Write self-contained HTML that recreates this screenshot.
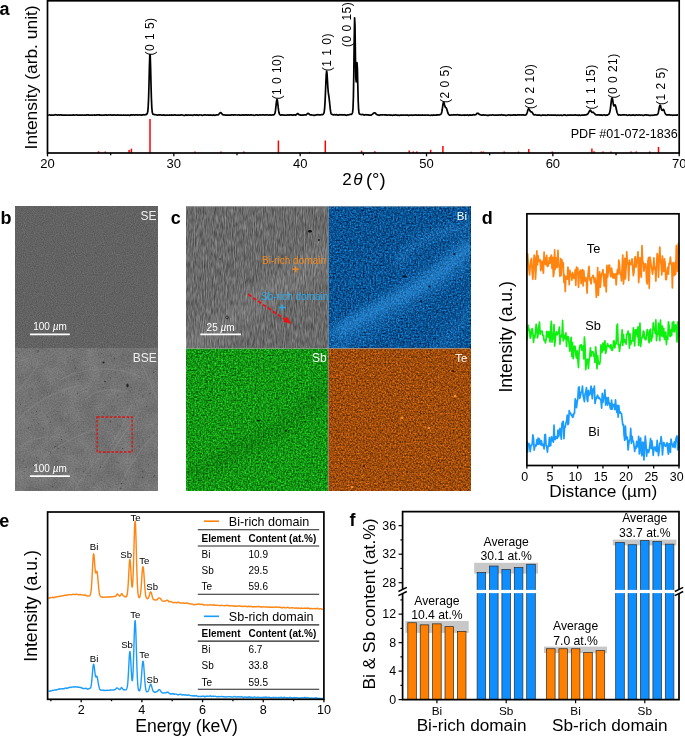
<!DOCTYPE html>
<html><head><meta charset="utf-8"><style>
html,body{margin:0;padding:0;background:#fff;}
svg{display:block;font-family:"Liberation Sans", sans-serif;will-change:transform;}
</style></head><body>
<svg width="685" height="736" viewBox="0 0 685 736">
<defs><filter id="fSE" x="0" y="0" width="1" height="1" color-interpolation-filters="sRGB">
<feTurbulence type="fractalNoise" baseFrequency="0.9" numOctaves="2" seed="3"/>
<feColorMatrix type="matrix" values="0.16 0 0 0 0.305  0.16 0 0 0 0.305  0.16 0 0 0 0.305  0 0 0 0 1"/>
</filter><filter id="fBSE" x="0" y="0" width="1" height="1" color-interpolation-filters="sRGB">
<feTurbulence type="fractalNoise" baseFrequency="0.7" numOctaves="2" seed="5"/>
<feColorMatrix type="matrix" values="0.16 0 0 0 0.375  0.16 0 0 0 0.375  0.16 0 0 0 0.375  0 0 0 0 1"/>
</filter><filter id="fBSE2" x="0" y="0" width="1" height="1" color-interpolation-filters="sRGB">
<feTurbulence type="fractalNoise" baseFrequency="0.06" numOctaves="3" seed="8"/>
<feColorMatrix type="matrix" values="1.0 0 0 0 -0.05  1.0 0 0 0 -0.05  1.0 0 0 0 -0.05  0 0 0 0 1"/><feComponentTransfer><feFuncA type="linear" slope="0" intercept="0.10"/></feComponentTransfer>
</filter><filter id="bl05" x="-0.1" y="-0.1" width="1.2" height="1.2"><feGaussianBlur stdDeviation="0.6"/></filter><clipPath id="cpBSE"><rect x="15.2" y="348.3" width="142.3" height="142.39999999999998"/></clipPath><filter id="fGr" x="0" y="0" width="1" height="1" color-interpolation-filters="sRGB">
<feTurbulence type="fractalNoise" baseFrequency="0.9 0.13" numOctaves="2" seed="9"/>
<feColorMatrix type="matrix" values="0.4 0 0 0 0.215  0.4 0 0 0 0.215  0.4 0 0 0 0.215  0 0 0 0 1"/>
</filter><filter id="fBi" x="0" y="0" width="1" height="1" color-interpolation-filters="sRGB">
<feTurbulence type="fractalNoise" baseFrequency="0.6" numOctaves="2" seed="13"/>
<feColorMatrix type="matrix" values="0.245 0 0 0 -0.09  0.7 0 0 0 -0.024  0.91 0 0 0 0.124  0 0 0 0 1"/>
</filter><filter id="fSb" x="0" y="0" width="1" height="1" color-interpolation-filters="sRGB">
<feTurbulence type="fractalNoise" baseFrequency="0.6" numOctaves="2" seed="17"/>
<feColorMatrix type="matrix" values="0.245 0 0 0 -0.047  0.91 0 0 0 0.135  0.245 0 0 0 -0.047  0 0 0 0 1"/>
</filter><filter id="fTe" x="0" y="0" width="1" height="1" color-interpolation-filters="sRGB">
<feTurbulence type="fractalNoise" baseFrequency="0.6" numOctaves="2" seed="21"/>
<feColorMatrix type="matrix" values="0.91 0 0 0 0.17  0.49 0 0 0 0.055  0.084 0 0 0 -0.003  0 0 0 0 1"/>
</filter><filter id="blur3" x="-0.2" y="-0.2" width="1.4" height="1.4"><feGaussianBlur stdDeviation="4.5"/></filter><clipPath id="cpBi"><rect x="328.3" y="206.1" width="141.8" height="142.4"/></clipPath><clipPath id="cpSb"><rect x="186.0" y="348.5" width="142.3" height="142.3"/></clipPath><clipPath id="cpGr"><rect x="186.0" y="206.1" width="142.3" height="142.4"/></clipPath></defs>
<path d="M48.20,115.10 L48.60,115.10 L49.00,115.03 L49.40,114.96 L49.80,114.90 L50.20,114.98 L50.60,115.13 L51.00,115.17 L51.40,115.12 L51.80,115.05 L52.20,115.12 L52.60,115.18 L53.00,115.06 L53.40,115.03 L53.80,115.08 L54.20,115.04 L54.60,115.01 L55.00,114.79 L55.40,114.79 L55.80,114.68 L56.20,114.82 L56.60,114.82 L57.00,115.00 L57.40,115.03 L57.80,115.12 L58.20,114.89 L58.60,114.83 L59.00,114.84 L59.40,115.06 L59.80,114.98 L60.20,114.94 L60.60,114.85 L61.00,114.91 L61.40,115.04 L61.80,115.05 L62.20,115.12 L62.60,115.10 L63.00,115.12 L63.40,115.11 L63.80,115.05 L64.20,115.10 L64.60,115.01 L65.00,115.01 L65.40,115.12 L65.80,115.09 L66.20,115.15 L66.60,115.05 L67.00,115.13 L67.40,115.22 L67.80,115.27 L68.20,115.23 L68.60,115.07 L69.00,115.05 L69.40,115.14 L69.80,115.19 L70.20,115.13 L70.60,115.21 L71.00,115.27 L71.40,115.22 L71.80,115.18 L72.20,115.02 L72.60,115.09 L73.00,114.97 L73.40,114.96 L73.80,114.93 L74.20,115.11 L74.60,115.25 L75.00,115.16 L75.40,115.02 L75.80,114.98 L76.20,114.92 L76.60,114.95 L77.00,114.89 L77.40,115.16 L77.80,115.25 L78.20,115.23 L78.60,115.10 L79.00,115.02 L79.40,115.17 L79.80,115.17 L80.20,115.16 L80.60,115.07 L81.00,115.09 L81.40,115.10 L81.80,114.98 L82.20,114.99 L82.60,114.97 L83.00,115.16 L83.40,115.21 L83.80,115.25 L84.20,115.21 L84.60,115.12 L85.00,115.21 L85.40,115.16 L85.80,115.23 L86.20,115.04 L86.60,115.07 L87.00,114.88 L87.40,114.82 L87.80,114.76 L88.20,114.83 L88.60,115.01 L89.00,115.22 L89.40,115.23 L89.80,115.16 L90.20,114.99 L90.60,115.10 L91.00,115.14 L91.40,115.11 L91.80,115.12 L92.20,115.18 L92.60,115.11 L93.00,115.05 L93.40,115.01 L93.80,115.00 L94.20,115.03 L94.60,114.96 L95.00,115.13 L95.40,115.12 L95.80,115.20 L96.20,115.07 L96.60,115.04 L97.00,114.87 L97.40,114.83 L97.80,114.87 L98.20,114.85 L98.60,115.02 L99.00,114.84 L99.40,115.08 L99.80,114.94 L100.20,115.15 L100.60,115.10 L101.00,115.04 L101.40,115.08 L101.80,115.19 L102.20,115.31 L102.60,115.19 L103.00,115.05 L103.40,114.98 L103.80,115.09 L104.20,115.06 L104.60,115.14 L105.00,114.98 L105.40,114.97 L105.80,114.87 L106.20,115.04 L106.60,115.08 L107.00,115.27 L107.40,115.16 L107.80,115.12 L108.20,115.01 L108.60,114.96 L109.00,115.02 L109.40,115.02 L109.80,115.04 L110.20,114.92 L110.60,114.89 L111.00,115.05 L111.40,115.11 L111.80,115.09 L112.20,114.98 L112.60,115.15 L113.00,115.12 L113.40,115.07 L113.80,114.90 L114.20,114.88 L114.60,114.95 L115.00,115.00 L115.40,115.16 L115.80,115.03 L116.20,115.07 L116.60,115.02 L117.00,115.07 L117.40,114.94 L117.80,114.88 L118.20,115.01 L118.60,115.06 L119.00,115.18 L119.40,115.07 L119.80,115.07 L120.20,115.01 L120.60,115.06 L121.00,115.07 L121.40,115.10 L121.80,115.05 L122.20,115.17 L122.60,115.24 L123.00,115.27 L123.40,115.13 L123.80,114.96 L124.20,115.00 L124.60,115.13 L125.00,115.23 L125.40,115.20 L125.80,115.18 L126.20,115.26 L126.60,115.29 L127.00,115.19 L127.40,115.25 L127.80,115.07 L128.20,115.17 L128.60,115.09 L129.00,115.26 L129.40,115.35 L129.80,115.43 L130.20,115.26 L130.60,114.96 L131.00,114.91 L131.40,114.92 L131.80,115.05 L132.20,115.06 L132.60,115.00 L133.00,114.83 L133.40,114.78 L133.80,114.91 L134.20,115.07 L134.60,115.05 L135.00,114.97 L135.40,114.86 L135.80,114.84 L136.20,114.83 L136.60,114.82 L137.00,114.87 L137.40,114.94 L137.80,115.11 L138.20,114.98 L138.60,114.93 L139.00,114.80 L139.40,114.81 L139.80,114.87 L140.20,114.88 L140.60,114.98 L141.00,114.98 L141.40,115.21 L141.80,115.05 L142.20,115.08 L142.60,114.89 L143.00,114.99 L143.40,114.77 L143.80,114.71 L144.20,114.74 L144.60,114.82 L145.00,114.82 L145.40,114.67 L145.80,114.70 L146.20,114.59 L146.60,114.29 L147.00,113.87 L147.40,113.06 L147.80,111.22 L148.20,106.83 L148.60,98.04 L149.00,83.84 L149.40,66.91 L149.80,54.70 L150.20,54.79 L150.60,66.92 L151.00,83.88 L151.40,98.26 L151.80,107.31 L152.20,111.77 L152.60,113.58 L153.00,114.24 L153.40,114.35 L153.80,114.50 L154.20,114.52 L154.60,114.77 L155.00,114.68 L155.40,114.78 L155.80,114.72 L156.20,114.75 L156.60,114.93 L157.00,115.07 L157.40,115.16 L157.80,115.10 L158.20,115.02 L158.60,114.86 L159.00,114.82 L159.40,114.80 L159.80,115.03 L160.20,114.93 L160.60,114.91 L161.00,114.90 L161.40,115.09 L161.80,115.15 L162.20,115.17 L162.60,115.20 L163.00,115.13 L163.40,115.10 L163.80,114.82 L164.20,115.00 L164.60,115.12 L165.00,115.35 L165.40,115.27 L165.80,115.20 L166.20,115.15 L166.60,115.07 L167.00,115.05 L167.40,115.04 L167.80,115.18 L168.20,115.25 L168.60,115.24 L169.00,115.07 L169.40,114.97 L169.80,115.11 L170.20,115.20 L170.60,115.26 L171.00,115.10 L171.40,114.96 L171.80,114.95 L172.20,115.06 L172.60,115.12 L173.00,115.10 L173.40,115.01 L173.80,115.05 L174.20,114.94 L174.60,114.94 L175.00,114.86 L175.40,115.07 L175.80,115.02 L176.20,115.14 L176.60,115.20 L177.00,115.23 L177.40,115.14 L177.80,115.03 L178.20,115.05 L178.60,115.02 L179.00,115.04 L179.40,115.21 L179.80,115.27 L180.20,115.22 L180.60,114.96 L181.00,115.01 L181.40,114.92 L181.80,114.92 L182.20,115.00 L182.60,115.03 L183.00,115.21 L183.40,115.23 L183.80,115.33 L184.20,115.29 L184.60,115.32 L185.00,115.28 L185.40,115.19 L185.80,114.91 L186.20,114.93 L186.60,115.11 L187.00,115.30 L187.40,115.22 L187.80,115.02 L188.20,114.90 L188.60,115.00 L189.00,115.06 L189.40,115.12 L189.80,115.12 L190.20,115.11 L190.60,115.09 L191.00,115.08 L191.40,115.10 L191.80,115.14 L192.20,115.28 L192.60,115.34 L193.00,115.30 L193.40,115.01 L193.80,114.99 L194.20,114.82 L194.60,114.85 L195.00,114.88 L195.40,115.11 L195.80,115.21 L196.20,115.00 L196.60,114.91 L197.00,114.86 L197.40,115.06 L197.80,115.28 L198.20,115.35 L198.60,115.23 L199.00,114.95 L199.40,114.93 L199.80,114.98 L200.20,114.98 L200.60,114.99 L201.00,114.91 L201.40,115.10 L201.80,115.18 L202.20,115.36 L202.60,115.23 L203.00,115.19 L203.40,115.09 L203.80,115.09 L204.20,115.02 L204.60,114.92 L205.00,114.84 L205.40,114.93 L205.80,115.02 L206.20,115.16 L206.60,115.18 L207.00,115.05 L207.40,114.97 L207.80,114.90 L208.20,115.07 L208.60,115.11 L209.00,115.18 L209.40,115.16 L209.80,115.09 L210.20,114.93 L210.60,114.98 L211.00,115.12 L211.40,115.04 L211.80,115.08 L212.20,115.09 L212.60,115.36 L213.00,115.21 L213.40,115.14 L213.80,114.93 L214.20,115.17 L214.60,115.18 L215.00,115.41 L215.40,115.14 L215.80,115.16 L216.20,114.89 L216.60,114.90 L217.00,114.95 L217.40,114.95 L217.80,114.99 L218.20,114.79 L218.60,114.54 L219.00,114.02 L219.40,113.47 L219.80,113.06 L220.20,112.71 L220.60,112.60 L221.00,112.80 L221.40,113.20 L221.80,113.67 L222.20,114.14 L222.60,114.62 L223.00,114.80 L223.40,114.92 L223.80,114.84 L224.20,114.91 L224.60,115.00 L225.00,115.01 L225.40,115.23 L225.80,115.09 L226.20,115.17 L226.60,115.03 L227.00,115.03 L227.40,115.05 L227.80,115.06 L228.20,115.17 L228.60,115.12 L229.00,115.04 L229.40,114.98 L229.80,114.99 L230.20,115.16 L230.60,115.10 L231.00,115.09 L231.40,114.87 L231.80,115.00 L232.20,114.91 L232.60,114.90 L233.00,114.85 L233.40,115.03 L233.80,115.05 L234.20,114.97 L234.60,114.81 L235.00,114.84 L235.40,114.97 L235.80,114.96 L236.20,115.00 L236.60,115.01 L237.00,115.02 L237.40,115.11 L237.80,114.98 L238.20,114.95 L238.60,114.76 L239.00,114.99 L239.40,115.07 L239.80,115.24 L240.20,115.08 L240.60,115.12 L241.00,115.11 L241.40,115.27 L241.80,115.17 L242.20,115.03 L242.60,114.79 L243.00,114.77 L243.40,114.96 L243.80,115.11 L244.20,115.14 L244.60,114.96 L245.00,114.87 L245.40,115.06 L245.80,114.94 L246.20,115.02 L246.60,114.81 L247.00,115.13 L247.40,115.00 L247.80,115.06 L248.20,114.85 L248.60,114.86 L249.00,115.00 L249.40,115.19 L249.80,115.24 L250.20,115.05 L250.60,114.83 L251.00,114.83 L251.40,114.90 L251.80,115.05 L252.20,115.07 L252.60,114.98 L253.00,114.98 L253.40,114.99 L253.80,115.19 L254.20,115.35 L254.60,115.34 L255.00,115.17 L255.40,115.01 L255.80,114.97 L256.20,114.97 L256.60,114.97 L257.00,114.93 L257.40,115.05 L257.80,115.04 L258.20,115.15 L258.60,115.08 L259.00,115.03 L259.40,114.93 L259.80,114.92 L260.20,114.94 L260.60,115.04 L261.00,115.06 L261.40,114.99 L261.80,114.97 L262.20,114.86 L262.60,114.92 L263.00,114.89 L263.40,114.83 L263.80,114.89 L264.20,114.92 L264.60,115.08 L265.00,115.04 L265.40,114.99 L265.80,114.92 L266.20,114.93 L266.60,114.92 L267.00,115.00 L267.40,114.92 L267.80,114.99 L268.20,114.99 L268.60,115.07 L269.00,115.01 L269.40,115.04 L269.80,114.91 L270.20,114.98 L270.60,114.94 L271.00,115.09 L271.40,115.08 L271.80,114.99 L272.20,114.93 L272.60,114.93 L273.00,114.99 L273.40,114.98 L273.80,114.70 L274.20,114.48 L274.60,114.03 L275.00,113.09 L275.40,110.97 L275.80,107.60 L276.20,103.87 L276.60,100.66 L277.00,99.30 L277.40,100.53 L277.80,103.60 L278.20,107.43 L278.60,110.48 L279.00,112.81 L279.40,114.03 L279.80,114.64 L280.20,114.91 L280.60,115.17 L281.00,115.19 L281.40,115.05 L281.80,114.83 L282.20,114.80 L282.60,114.87 L283.00,115.02 L283.40,115.10 L283.80,115.15 L284.20,115.06 L284.60,115.05 L285.00,115.03 L285.40,115.15 L285.80,115.25 L286.20,115.22 L286.60,115.15 L287.00,115.09 L287.40,114.98 L287.80,114.87 L288.20,114.89 L288.60,114.97 L289.00,115.13 L289.40,114.94 L289.80,114.92 L290.20,114.84 L290.60,114.91 L291.00,114.75 L291.40,114.78 L291.80,114.92 L292.20,115.14 L292.60,115.12 L293.00,115.04 L293.40,115.07 L293.80,114.89 L294.20,114.87 L294.60,114.84 L295.00,115.09 L295.40,115.17 L295.80,115.08 L296.20,114.81 L296.60,114.38 L297.00,114.01 L297.40,113.69 L297.80,113.60 L298.20,113.77 L298.60,114.29 L299.00,114.62 L299.40,114.82 L299.80,114.86 L300.20,115.09 L300.60,115.14 L301.00,115.27 L301.40,115.08 L301.80,115.07 L302.20,114.93 L302.60,115.08 L303.00,115.18 L303.40,115.07 L303.80,114.93 L304.20,114.86 L304.60,114.93 L305.00,114.86 L305.40,114.87 L305.80,114.86 L306.20,114.85 L306.60,114.43 L307.00,114.10 L307.40,113.67 L307.80,113.56 L308.20,113.40 L308.60,113.59 L309.00,113.88 L309.40,114.27 L309.80,114.68 L310.20,114.87 L310.60,114.95 L311.00,114.94 L311.40,114.91 L311.80,115.07 L312.20,115.01 L312.60,115.01 L313.00,115.03 L313.40,115.27 L313.80,115.47 L314.20,115.37 L314.60,115.20 L315.00,115.16 L315.40,115.14 L315.80,115.03 L316.20,114.91 L316.60,114.95 L317.00,114.95 L317.40,114.80 L317.80,114.63 L318.20,114.74 L318.60,114.80 L319.00,114.90 L319.40,114.84 L319.80,114.93 L320.20,114.89 L320.60,114.89 L321.00,114.73 L321.40,114.68 L321.80,114.50 L322.20,114.60 L322.60,114.54 L323.00,114.42 L323.40,114.02 L323.80,113.37 L324.20,111.99 L324.60,108.71 L325.00,102.84 L325.40,94.05 L325.80,84.03 L326.20,75.15 L326.60,71.00 L327.00,73.03 L327.40,79.56 L327.80,86.54 L328.20,91.53 L328.60,94.56 L329.00,97.24 L329.40,100.68 L329.80,104.51 L330.20,108.41 L330.60,111.38 L331.00,113.28 L331.40,114.14 L331.80,114.28 L332.20,114.49 L332.60,114.52 L333.00,114.79 L333.40,114.84 L333.80,114.86 L334.20,114.72 L334.60,114.72 L335.00,114.70 L335.40,114.83 L335.80,114.77 L336.20,114.81 L336.60,114.66 L337.00,114.82 L337.40,114.88 L337.80,115.17 L338.20,115.24 L338.60,115.22 L339.00,114.98 L339.40,114.74 L339.80,114.64 L340.20,114.75 L340.60,114.84 L341.00,114.77 L341.40,114.84 L341.80,114.71 L342.20,114.90 L342.60,114.86 L343.00,114.95 L343.40,114.92 L343.80,114.88 L344.20,114.85 L344.60,114.71 L345.00,114.74 L345.40,114.94 L345.80,115.23 L346.20,115.33 L346.60,115.22 L347.00,114.98 L347.40,114.97 L347.80,114.89 L348.20,114.91 L348.60,114.73 L349.00,114.71 L349.40,114.63 L349.80,114.59 L350.20,114.41 L350.60,114.32 L351.00,114.39 L351.40,114.31 L351.80,114.08 L352.20,113.51 L352.60,112.46 L353.00,108.58 L353.40,97.22 L353.80,73.14 L354.20,40.17 L354.60,17.80 L355.00,25.37 L355.40,53.93 L355.80,77.71 L356.20,81.84 L356.60,71.58 L357.00,62.71 L357.40,68.62 L357.80,85.06 L358.20,100.71 L358.60,109.47 L359.00,112.98 L359.40,113.83 L359.80,114.20 L360.20,114.25 L360.60,114.45 L361.00,114.53 L361.40,114.56 L361.80,114.50 L362.20,114.47 L362.60,114.46 L363.00,114.61 L363.40,114.70 L363.80,114.88 L364.20,115.08 L364.60,115.05 L365.00,114.91 L365.40,114.73 L365.80,114.68 L366.20,114.71 L366.60,114.82 L367.00,114.85 L367.40,114.79 L367.80,114.82 L368.20,114.87 L368.60,115.07 L369.00,115.02 L369.40,115.08 L369.80,115.05 L370.20,115.14 L370.60,115.11 L371.00,115.10 L371.40,114.95 L371.80,114.66 L372.20,114.40 L372.60,114.03 L373.00,113.78 L373.40,113.27 L373.80,113.07 L374.20,112.85 L374.60,112.86 L375.00,112.80 L375.40,113.13 L375.80,113.64 L376.20,114.11 L376.60,114.46 L377.00,114.63 L377.40,114.88 L377.80,114.89 L378.20,114.98 L378.60,115.04 L379.00,115.33 L379.40,115.25 L379.80,115.14 L380.20,114.86 L380.60,115.01 L381.00,114.96 L381.40,114.99 L381.80,114.92 L382.20,114.94 L382.60,114.90 L383.00,114.87 L383.40,114.77 L383.80,114.73 L384.20,114.74 L384.60,114.93 L385.00,115.03 L385.40,114.92 L385.80,114.87 L386.20,114.95 L386.60,115.15 L387.00,115.18 L387.40,115.04 L387.80,115.05 L388.20,115.01 L388.60,114.99 L389.00,114.87 L389.40,115.04 L389.80,115.15 L390.20,115.32 L390.60,115.16 L391.00,115.22 L391.40,115.07 L391.80,115.10 L392.20,115.23 L392.60,115.34 L393.00,115.31 L393.40,115.10 L393.80,115.06 L394.20,115.20 L394.60,115.17 L395.00,115.00 L395.40,114.88 L395.80,114.92 L396.20,115.07 L396.60,115.21 L397.00,115.23 L397.40,115.29 L397.80,115.09 L398.20,115.13 L398.60,115.24 L399.00,115.40 L399.40,115.35 L399.80,115.18 L400.20,115.27 L400.60,115.17 L401.00,115.15 L401.40,115.04 L401.80,115.18 L402.20,115.15 L402.60,115.14 L403.00,115.05 L403.40,115.10 L403.80,115.06 L404.20,114.99 L404.60,114.98 L405.00,115.06 L405.40,115.08 L405.80,115.06 L406.20,115.04 L406.60,115.03 L407.00,115.07 L407.40,114.93 L407.80,115.11 L408.20,115.29 L408.60,115.54 L409.00,115.43 L409.40,115.30 L409.80,115.14 L410.20,115.17 L410.60,115.24 L411.00,115.12 L411.40,115.20 L411.80,115.06 L412.20,115.29 L412.60,115.22 L413.00,115.17 L413.40,115.07 L413.80,115.12 L414.20,115.18 L414.60,115.19 L415.00,115.09 L415.40,114.91 L415.80,114.94 L416.20,115.04 L416.60,115.23 L417.00,115.16 L417.40,115.19 L417.80,115.14 L418.20,115.08 L418.60,114.97 L419.00,115.11 L419.40,115.05 L419.80,115.17 L420.20,115.02 L420.60,115.04 L421.00,115.05 L421.40,115.09 L421.80,115.07 L422.20,114.94 L422.60,115.02 L423.00,115.23 L423.40,115.23 L423.80,115.18 L424.20,115.14 L424.60,115.12 L425.00,115.12 L425.40,115.06 L425.80,115.06 L426.20,114.99 L426.60,115.00 L427.00,115.05 L427.40,115.04 L427.80,115.00 L428.20,115.09 L428.60,115.15 L429.00,115.26 L429.40,115.27 L429.80,115.30 L430.20,115.41 L430.60,115.24 L431.00,115.26 L431.40,115.04 L431.80,115.26 L432.20,115.34 L432.60,115.20 L433.00,114.96 L433.40,114.87 L433.80,115.10 L434.20,115.24 L434.60,115.17 L435.00,115.14 L435.40,115.13 L435.80,115.12 L436.20,115.16 L436.60,114.91 L437.00,114.97 L437.40,114.78 L437.80,115.04 L438.20,114.96 L438.60,114.95 L439.00,114.88 L439.40,114.80 L439.80,114.75 L440.20,114.50 L440.60,114.37 L441.00,114.07 L441.40,113.43 L441.80,111.93 L442.20,109.75 L442.60,106.90 L443.00,104.22 L443.40,102.39 L443.80,102.20 L444.20,103.32 L444.60,105.01 L445.00,106.42 L445.40,107.27 L445.80,107.51 L446.20,107.89 L446.60,108.59 L447.00,109.95 L447.40,111.27 L447.80,112.67 L448.20,113.67 L448.60,114.33 L449.00,114.82 L449.40,114.99 L449.80,115.25 L450.20,115.20 L450.60,115.14 L451.00,114.98 L451.40,114.95 L451.80,115.02 L452.20,115.06 L452.60,115.01 L453.00,114.86 L453.40,114.85 L453.80,114.69 L454.20,114.88 L454.60,114.84 L455.00,114.97 L455.40,114.92 L455.80,115.01 L456.20,114.95 L456.60,114.82 L457.00,114.71 L457.40,114.66 L457.80,114.73 L458.20,114.95 L458.60,115.04 L459.00,115.17 L459.40,114.93 L459.80,115.04 L460.20,114.96 L460.60,115.07 L461.00,115.09 L461.40,115.27 L461.80,115.29 L462.20,115.25 L462.60,115.03 L463.00,115.06 L463.40,115.03 L463.80,115.18 L464.20,115.13 L464.60,115.29 L465.00,115.06 L465.40,115.04 L465.80,114.97 L466.20,115.10 L466.60,115.06 L467.00,114.97 L467.40,114.88 L467.80,114.96 L468.20,115.18 L468.60,115.39 L469.00,115.29 L469.40,115.01 L469.80,114.88 L470.20,115.06 L470.60,115.06 L471.00,115.04 L471.40,115.02 L471.80,115.16 L472.20,115.19 L472.60,115.02 L473.00,114.81 L473.40,114.78 L473.80,114.67 L474.20,114.83 L474.60,114.78 L475.00,114.90 L475.40,114.80 L475.80,114.68 L476.20,114.19 L476.60,113.73 L477.00,113.42 L477.40,113.30 L477.80,113.20 L478.20,113.34 L478.60,113.62 L479.00,114.20 L479.40,114.32 L479.80,114.59 L480.20,114.59 L480.60,114.86 L481.00,115.01 L481.40,115.07 L481.80,115.08 L482.20,115.17 L482.60,114.97 L483.00,114.99 L483.40,114.84 L483.80,115.03 L484.20,115.05 L484.60,115.04 L485.00,114.97 L485.40,115.02 L485.80,115.13 L486.20,115.13 L486.60,115.23 L487.00,115.39 L487.40,115.33 L487.80,115.18 L488.20,115.20 L488.60,115.39 L489.00,115.38 L489.40,115.16 L489.80,115.05 L490.20,115.01 L490.60,114.98 L491.00,115.09 L491.40,115.07 L491.80,115.08 L492.20,114.92 L492.60,114.95 L493.00,114.91 L493.40,115.00 L493.80,115.09 L494.20,115.19 L494.60,115.25 L495.00,115.19 L495.40,115.17 L495.80,115.12 L496.20,115.06 L496.60,115.12 L497.00,115.04 L497.40,115.18 L497.80,115.12 L498.20,115.14 L498.60,114.99 L499.00,114.93 L499.40,115.01 L499.80,114.99 L500.20,115.14 L500.60,115.06 L501.00,114.93 L501.40,114.78 L501.80,114.68 L502.20,114.86 L502.60,115.01 L503.00,115.23 L503.40,115.12 L503.80,114.97 L504.20,115.07 L504.60,115.20 L505.00,115.27 L505.40,115.21 L505.80,115.38 L506.20,115.49 L506.60,115.42 L507.00,115.24 L507.40,115.18 L507.80,115.12 L508.20,115.00 L508.60,114.96 L509.00,114.93 L509.40,115.01 L509.80,115.01 L510.20,115.29 L510.60,115.22 L511.00,115.20 L511.40,114.99 L511.80,115.10 L512.20,115.20 L512.60,115.17 L513.00,115.07 L513.40,114.84 L513.80,114.80 L514.20,114.92 L514.60,115.06 L515.00,115.05 L515.40,114.97 L515.80,114.97 L516.20,115.10 L516.60,115.08 L517.00,115.05 L517.40,114.86 L517.80,114.81 L518.20,114.97 L518.60,114.93 L519.00,115.00 L519.40,114.88 L519.80,115.03 L520.20,114.99 L520.60,114.96 L521.00,114.99 L521.40,115.05 L521.80,114.89 L522.20,114.88 L522.60,114.81 L523.00,114.91 L523.40,114.94 L523.80,115.05 L524.20,115.16 L524.60,115.08 L525.00,115.06 L525.40,115.01 L525.80,114.98 L526.20,114.68 L526.60,113.98 L527.00,112.95 L527.40,111.69 L527.80,110.29 L528.20,109.27 L528.60,108.70 L529.00,109.04 L529.40,109.65 L529.80,110.50 L530.20,111.16 L530.60,111.65 L531.00,111.83 L531.40,111.85 L531.80,112.00 L532.20,112.35 L532.60,113.05 L533.00,113.69 L533.40,114.33 L533.80,114.80 L534.20,115.02 L534.60,114.96 L535.00,114.79 L535.40,114.70 L535.80,114.74 L536.20,114.93 L536.60,115.07 L537.00,115.05 L537.40,115.00 L537.80,115.09 L538.20,115.19 L538.60,115.09 L539.00,114.96 L539.40,115.01 L539.80,115.12 L540.20,115.25 L540.60,115.33 L541.00,115.38 L541.40,115.39 L541.80,115.35 L542.20,115.12 L542.60,115.00 L543.00,114.97 L543.40,115.07 L543.80,115.15 L544.20,115.10 L544.60,115.05 L545.00,115.10 L545.40,115.19 L545.80,115.28 L546.20,115.24 L546.60,115.27 L547.00,115.28 L547.40,115.00 L547.80,114.86 L548.20,114.79 L548.60,114.91 L549.00,114.99 L549.40,115.12 L549.80,115.17 L550.20,115.05 L550.60,115.12 L551.00,115.13 L551.40,115.12 L551.80,114.97 L552.20,115.04 L552.60,115.09 L553.00,115.13 L553.40,115.06 L553.80,115.04 L554.20,114.99 L554.60,115.09 L555.00,115.12 L555.40,115.13 L555.80,115.06 L556.20,115.35 L556.60,115.26 L557.00,115.38 L557.40,115.14 L557.80,115.19 L558.20,115.14 L558.60,115.22 L559.00,115.33 L559.40,115.30 L559.80,115.17 L560.20,115.02 L560.60,115.04 L561.00,115.14 L561.40,115.30 L561.80,115.29 L562.20,115.33 L562.60,115.34 L563.00,115.32 L563.40,115.11 L563.80,114.88 L564.20,114.75 L564.60,115.01 L565.00,115.03 L565.40,115.26 L565.80,115.17 L566.20,115.39 L566.60,115.37 L567.00,115.31 L567.40,115.15 L567.80,115.07 L568.20,115.09 L568.60,115.07 L569.00,115.06 L569.40,115.18 L569.80,115.08 L570.20,115.10 L570.60,114.89 L571.00,115.05 L571.40,115.10 L571.80,115.17 L572.20,115.22 L572.60,115.01 L573.00,115.11 L573.40,115.00 L573.80,115.18 L574.20,115.10 L574.60,114.94 L575.00,114.82 L575.40,114.82 L575.80,115.17 L576.20,115.26 L576.60,115.26 L577.00,115.01 L577.40,115.10 L577.80,115.23 L578.20,115.35 L578.60,115.21 L579.00,114.93 L579.40,115.00 L579.80,115.24 L580.20,115.43 L580.60,115.46 L581.00,115.28 L581.40,115.14 L581.80,115.14 L582.20,114.99 L582.60,115.05 L583.00,114.96 L583.40,115.13 L583.80,115.18 L584.20,115.19 L584.60,115.04 L585.00,114.89 L585.40,114.86 L585.80,114.84 L586.20,114.82 L586.60,114.65 L587.00,114.56 L587.40,114.31 L587.80,113.94 L588.20,113.27 L588.60,112.65 L589.00,111.86 L589.40,111.27 L589.80,110.49 L590.20,110.20 L590.60,110.38 L591.00,111.07 L591.40,111.72 L591.80,112.24 L592.20,112.45 L592.60,112.42 L593.00,112.18 L593.40,112.37 L593.80,112.80 L594.20,113.25 L594.60,113.62 L595.00,114.07 L595.40,114.56 L595.80,114.80 L596.20,114.94 L596.60,115.00 L597.00,114.94 L597.40,114.88 L597.80,114.88 L598.20,114.98 L598.60,114.84 L599.00,114.78 L599.40,114.89 L599.80,115.20 L600.20,115.04 L600.60,115.20 L601.00,114.97 L601.40,115.23 L601.80,115.12 L602.20,115.29 L602.60,115.22 L603.00,115.01 L603.40,114.98 L603.80,114.90 L604.20,114.78 L604.60,114.96 L605.00,115.07 L605.40,115.42 L605.80,115.09 L606.20,115.14 L606.60,115.10 L607.00,115.28 L607.40,115.13 L607.80,114.85 L608.20,114.63 L608.60,114.30 L609.00,113.93 L609.40,113.28 L609.80,112.10 L610.20,110.09 L610.60,107.03 L611.00,103.64 L611.40,100.32 L611.80,98.14 L612.20,97.90 L612.60,99.46 L613.00,102.12 L613.40,104.53 L613.80,105.84 L614.20,105.97 L614.60,105.20 L615.00,104.86 L615.40,105.37 L615.80,106.75 L616.20,108.71 L616.60,110.53 L617.00,112.18 L617.40,113.23 L617.80,114.13 L618.20,114.79 L618.60,115.12 L619.00,115.03 L619.40,114.94 L619.80,114.90 L620.20,115.05 L620.60,115.03 L621.00,115.09 L621.40,115.09 L621.80,115.03 L622.20,114.98 L622.60,114.79 L623.00,114.81 L623.40,114.73 L623.80,114.87 L624.20,114.83 L624.60,114.96 L625.00,115.01 L625.40,114.98 L625.80,114.90 L626.20,114.79 L626.60,114.97 L627.00,115.19 L627.40,115.34 L627.80,115.25 L628.20,115.23 L628.60,115.03 L629.00,115.19 L629.40,115.01 L629.80,114.91 L630.20,115.01 L630.60,115.19 L631.00,115.34 L631.40,115.13 L631.80,114.98 L632.20,115.08 L632.60,114.94 L633.00,114.90 L633.40,114.94 L633.80,115.08 L634.20,115.24 L634.60,115.20 L635.00,115.38 L635.40,115.22 L635.80,115.24 L636.20,114.88 L636.60,114.84 L637.00,114.93 L637.40,115.01 L637.80,115.16 L638.20,115.04 L638.60,115.03 L639.00,114.96 L639.40,114.92 L639.80,114.97 L640.20,115.06 L640.60,115.16 L641.00,115.15 L641.40,115.01 L641.80,114.98 L642.20,115.02 L642.60,115.18 L643.00,115.38 L643.40,115.46 L643.80,115.37 L644.20,115.13 L644.60,114.99 L645.00,114.92 L645.40,114.85 L645.80,114.88 L646.20,114.92 L646.60,115.07 L647.00,115.07 L647.40,115.09 L647.80,114.92 L648.20,115.09 L648.60,115.15 L649.00,115.40 L649.40,115.32 L649.80,115.40 L650.20,115.23 L650.60,115.22 L651.00,115.32 L651.40,115.24 L651.80,115.27 L652.20,115.18 L652.60,115.32 L653.00,115.28 L653.40,115.24 L653.80,115.14 L654.20,115.10 L654.60,114.91 L655.00,114.89 L655.40,114.79 L655.80,114.83 L656.20,114.86 L656.60,114.88 L657.00,114.62 L657.40,114.46 L657.80,113.89 L658.20,112.99 L658.60,111.18 L659.00,109.06 L659.40,107.02 L659.80,105.62 L660.20,105.10 L660.60,105.91 L661.00,107.65 L661.40,109.22 L661.80,110.29 L662.20,110.37 L662.60,110.21 L663.00,109.76 L663.40,109.43 L663.80,109.83 L664.20,110.75 L664.60,111.98 L665.00,113.03 L665.40,113.77 L665.80,114.31 L666.20,114.79 L666.60,114.87 L667.00,115.06 L667.40,114.86 L667.80,115.02 L668.20,114.95 L668.60,114.85 L669.00,114.80 L669.40,114.72 L669.80,114.91 L670.20,115.05 L670.60,115.05 L671.00,115.00 L671.40,115.00 L671.80,115.10 L672.20,115.33 L672.60,115.24 L673.00,115.15 L673.40,115.02 L673.80,115.10 L674.20,115.25 L674.60,115.26 L675.00,115.16 L675.40,115.07 L675.80,115.02 L676.20,115.19 L676.60,115.20 L677.00,115.15 L677.40,114.95 L677.80,115.01 L678.20,115.01" fill="none" stroke="#000" stroke-width="1.7" stroke-linejoin="round"/>
<line x1="98.6" y1="153.0" x2="98.6" y2="151.3" stroke="#f00" stroke-width="1.5"/>
<line x1="105.3" y1="153.0" x2="105.3" y2="151.5" stroke="#f00" stroke-width="1.5"/>
<line x1="129.1" y1="153.0" x2="129.1" y2="149.9" stroke="#f00" stroke-width="1.5"/>
<line x1="131.4" y1="153.0" x2="131.4" y2="148.6" stroke="#f00" stroke-width="1.5"/>
<line x1="150.0" y1="153.0" x2="150.0" y2="119.0" stroke="#f00" stroke-width="1.5"/>
<line x1="194.9" y1="153.0" x2="194.9" y2="151.5" stroke="#f00" stroke-width="1.5"/>
<line x1="221.0" y1="153.0" x2="221.0" y2="151.5" stroke="#f00" stroke-width="1.5"/>
<line x1="243.8" y1="153.0" x2="243.8" y2="151.5" stroke="#f00" stroke-width="1.5"/>
<line x1="278.4" y1="153.0" x2="278.4" y2="140.5" stroke="#f00" stroke-width="1.5"/>
<line x1="309.6" y1="153.0" x2="309.6" y2="151.9" stroke="#f00" stroke-width="1.5"/>
<line x1="325.3" y1="153.0" x2="325.3" y2="140.5" stroke="#f00" stroke-width="1.5"/>
<line x1="361.6" y1="153.0" x2="361.6" y2="150.7" stroke="#f00" stroke-width="1.5"/>
<line x1="374.8" y1="153.0" x2="374.8" y2="151.2" stroke="#f00" stroke-width="1.5"/>
<line x1="409.2" y1="153.0" x2="409.2" y2="150.4" stroke="#f00" stroke-width="1.5"/>
<line x1="413.3" y1="153.0" x2="413.3" y2="151.5" stroke="#f00" stroke-width="1.5"/>
<line x1="416.8" y1="153.0" x2="416.8" y2="151.5" stroke="#f00" stroke-width="1.5"/>
<line x1="430.7" y1="153.0" x2="430.7" y2="149.8" stroke="#f00" stroke-width="1.5"/>
<line x1="442.9" y1="153.0" x2="442.9" y2="145.9" stroke="#f00" stroke-width="1.5"/>
<line x1="471.1" y1="153.0" x2="471.1" y2="151.8" stroke="#f00" stroke-width="1.5"/>
<line x1="481.3" y1="153.0" x2="481.3" y2="151.5" stroke="#f00" stroke-width="1.5"/>
<line x1="483.4" y1="153.0" x2="483.4" y2="151.5" stroke="#f00" stroke-width="1.5"/>
<line x1="504.2" y1="153.0" x2="504.2" y2="151.6" stroke="#f00" stroke-width="1.5"/>
<line x1="518.5" y1="153.0" x2="518.5" y2="151.6" stroke="#f00" stroke-width="1.5"/>
<line x1="528.8" y1="153.0" x2="528.8" y2="149.0" stroke="#f00" stroke-width="1.5"/>
<line x1="552.3" y1="153.0" x2="552.3" y2="151.5" stroke="#f00" stroke-width="1.5"/>
<line x1="591.9" y1="153.0" x2="591.9" y2="148.6" stroke="#f00" stroke-width="1.5"/>
<line x1="594.0" y1="153.0" x2="594.0" y2="151.2" stroke="#f00" stroke-width="1.5"/>
<line x1="603.0" y1="153.0" x2="603.0" y2="151.5" stroke="#f00" stroke-width="1.5"/>
<line x1="610.9" y1="153.0" x2="610.9" y2="151.6" stroke="#f00" stroke-width="1.5"/>
<line x1="631.0" y1="153.0" x2="631.0" y2="151.4" stroke="#f00" stroke-width="1.5"/>
<line x1="636.3" y1="153.0" x2="636.3" y2="151.4" stroke="#f00" stroke-width="1.5"/>
<line x1="649.7" y1="153.0" x2="649.7" y2="151.5" stroke="#f00" stroke-width="1.5"/>
<line x1="658.5" y1="153.0" x2="658.5" y2="146.9" stroke="#f00" stroke-width="1.5"/>
<rect x="47.5" y="0.8" width="631.7" height="152.2" fill="none" stroke="#000" stroke-width="1.7"/>
<line x1="47.50" y1="153.0" x2="47.50" y2="156.35" stroke="#000" stroke-width="1.3"/>
<text x="47.50" y="167.6" font-size="13" text-anchor="middle" font-weight="normal" fill="#000">20</text>
<line x1="110.67" y1="153.0" x2="110.67" y2="155.35" stroke="#000" stroke-width="1.3"/>
<line x1="173.84" y1="153.0" x2="173.84" y2="156.35" stroke="#000" stroke-width="1.3"/>
<text x="173.84" y="167.6" font-size="13" text-anchor="middle" font-weight="normal" fill="#000">30</text>
<line x1="237.01" y1="153.0" x2="237.01" y2="155.35" stroke="#000" stroke-width="1.3"/>
<line x1="300.18" y1="153.0" x2="300.18" y2="156.35" stroke="#000" stroke-width="1.3"/>
<text x="300.18" y="167.6" font-size="13" text-anchor="middle" font-weight="normal" fill="#000">40</text>
<line x1="363.35" y1="153.0" x2="363.35" y2="155.35" stroke="#000" stroke-width="1.3"/>
<line x1="426.52" y1="153.0" x2="426.52" y2="156.35" stroke="#000" stroke-width="1.3"/>
<text x="426.52" y="167.6" font-size="13" text-anchor="middle" font-weight="normal" fill="#000">50</text>
<line x1="489.69" y1="153.0" x2="489.69" y2="155.35" stroke="#000" stroke-width="1.3"/>
<line x1="552.86" y1="153.0" x2="552.86" y2="156.35" stroke="#000" stroke-width="1.3"/>
<text x="552.86" y="167.6" font-size="13" text-anchor="middle" font-weight="normal" fill="#000">60</text>
<line x1="616.03" y1="153.0" x2="616.03" y2="155.35" stroke="#000" stroke-width="1.3"/>
<line x1="679.20" y1="153.0" x2="679.20" y2="156.35" stroke="#000" stroke-width="1.3"/>
<text x="679.20" y="167.6" font-size="13" text-anchor="middle" font-weight="normal" fill="#000">70</text>
<text x="154.20" y="55.60" font-size="12" text-anchor="start" font-weight="normal" fill="#000" transform="rotate(-90 154.20 55.60)" letter-spacing="0.5">(0 1 5)</text>
<text x="281.20" y="99.60" font-size="12" text-anchor="start" font-weight="normal" fill="#000" transform="rotate(-90 281.20 99.60)" letter-spacing="0.5">(1 0 10)</text>
<text x="330.90" y="71.20" font-size="12" text-anchor="start" font-weight="normal" fill="#000" transform="rotate(-90 330.90 71.20)" letter-spacing="0.5">(1 1 0)</text>
<text x="350.80" y="47.10" font-size="12" text-anchor="start" font-weight="normal" fill="#000" transform="rotate(-90 350.80 47.10)" letter-spacing="0.5">(0 0 15)</text>
<text x="448.80" y="102.90" font-size="12" text-anchor="start" font-weight="normal" fill="#000" transform="rotate(-90 448.80 102.90)" letter-spacing="0.5">(2 0 5)</text>
<text x="533.80" y="109.00" font-size="12" text-anchor="start" font-weight="normal" fill="#000" transform="rotate(-90 533.80 109.00)" letter-spacing="0.5">(0 2 10)</text>
<text x="594.90" y="109.60" font-size="12" text-anchor="start" font-weight="normal" fill="#000" transform="rotate(-90 594.90 109.60)" letter-spacing="0.5">(1 1 15)</text>
<text x="616.90" y="98.60" font-size="12" text-anchor="start" font-weight="normal" fill="#000" transform="rotate(-90 616.90 98.60)" letter-spacing="0.5">(0 0 21)</text>
<text x="665.30" y="105.10" font-size="12" text-anchor="start" font-weight="normal" fill="#000" transform="rotate(-90 665.30 105.10)" letter-spacing="0.5">(1 2 5)</text>
<text x="677.8" y="137.6" font-size="12.6" text-anchor="end" font-weight="normal" fill="#000">PDF #01-072-1836</text>
<text x="342.2" y="185.2" font-size="17" text-anchor="start" font-weight="normal" fill="#000">2</text>
<text x="353.2" y="185.2" font-size="17" font-style="italic">θ</text>
<text x="365.9" y="185.6" font-size="18.5" text-anchor="start" font-weight="normal" fill="#000">(°)</text>
<text x="37.3" y="149.4" font-size="17.4" text-anchor="start" font-weight="normal" fill="#000" transform="rotate(-90 37.3 149.4)">Intensity (arb. unit)</text>
<text x="-0.6" y="14.8" font-size="18" text-anchor="start" font-weight="bold" fill="#000">a</text>
<rect x="15.2" y="206.1" width="142.3" height="142.20000000000002" fill="#626262"/>
<rect x="15.2" y="206.1" width="142.3" height="142.20000000000002" filter="url(#fSE)"/>
<rect x="15.2" y="348.3" width="142.3" height="142.39999999999998" filter="url(#fBSE)"/>
<rect x="15.2" y="348.3" width="142.3" height="142.39999999999998" filter="url(#fBSE2)"/>
<g clip-path="url(#cpBSE)"><g filter="url(#bl05)" fill="none" stroke="#8e8e8e" stroke-width="1.3" opacity="0.42"><path d="M18,420 Q40,395 80,385"/><path d="M30,470 Q60,440 95,430"/><path d="M100,470 Q120,440 140,410"/><path d="M118,490 Q135,452 157,432"/><path d="M60,380 Q95,360 140,376"/><path d="M110,447 Q124,426 131,405"/><path d="M20,447 Q45,430 70,441"/><path d="M140,360 Q150,380 157,400"/><path d="M40,360 Q30,380 16,392"/><path d="M75,490 Q85,470 100,458"/><path d="M85,400 Q100,385 125,392"/></g></g>
<circle cx="34.2" cy="419.4" r="0.51" fill="#2a2a2a" opacity="0.36"/>
<circle cx="37.0" cy="479.6" r="0.32" fill="#2a2a2a" opacity="0.41"/>
<circle cx="149.3" cy="436.6" r="0.43" fill="#2a2a2a" opacity="0.58"/>
<circle cx="109.2" cy="388.0" r="0.35" fill="#2a2a2a" opacity="0.70"/>
<circle cx="110.3" cy="421.2" r="0.59" fill="#2a2a2a" opacity="0.60"/>
<circle cx="153.8" cy="378.0" r="0.49" fill="#2a2a2a" opacity="0.57"/>
<circle cx="65.8" cy="432.4" r="0.38" fill="#2a2a2a" opacity="0.71"/>
<circle cx="137.9" cy="367.4" r="0.46" fill="#2a2a2a" opacity="0.47"/>
<circle cx="27.9" cy="475.1" r="0.45" fill="#2a2a2a" opacity="0.42"/>
<circle cx="110.7" cy="377.7" r="0.62" fill="#2a2a2a" opacity="0.45"/>
<circle cx="20.8" cy="377.5" r="0.42" fill="#2a2a2a" opacity="0.56"/>
<circle cx="143.3" cy="447.2" r="0.42" fill="#2a2a2a" opacity="0.36"/>
<circle cx="38.6" cy="489.2" r="0.46" fill="#2a2a2a" opacity="0.66"/>
<circle cx="23.9" cy="354.1" r="0.60" fill="#2a2a2a" opacity="0.61"/>
<circle cx="59.5" cy="393.9" r="0.33" fill="#2a2a2a" opacity="0.43"/>
<circle cx="19.6" cy="467.1" r="0.46" fill="#2a2a2a" opacity="0.41"/>
<circle cx="119.9" cy="376.8" r="0.32" fill="#2a2a2a" opacity="0.62"/>
<circle cx="141.9" cy="353.1" r="0.58" fill="#2a2a2a" opacity="0.44"/>
<circle cx="29.2" cy="351.8" r="0.40" fill="#2a2a2a" opacity="0.68"/>
<circle cx="85.4" cy="469.0" r="0.38" fill="#2a2a2a" opacity="0.49"/>
<circle cx="52.4" cy="486.7" r="0.63" fill="#2a2a2a" opacity="0.50"/>
<circle cx="77.4" cy="393.4" r="0.56" fill="#2a2a2a" opacity="0.37"/>
<circle cx="25.7" cy="406.0" r="0.39" fill="#2a2a2a" opacity="0.73"/>
<circle cx="120.3" cy="425.9" r="0.53" fill="#2a2a2a" opacity="0.66"/>
<circle cx="125.8" cy="479.5" r="0.35" fill="#2a2a2a" opacity="0.63"/>
<circle cx="36.4" cy="411.5" r="0.58" fill="#2a2a2a" opacity="0.75"/>
<circle cx="122.7" cy="354.3" r="0.43" fill="#2a2a2a" opacity="0.42"/>
<circle cx="156.3" cy="369.5" r="0.39" fill="#2a2a2a" opacity="0.51"/>
<circle cx="24.7" cy="471.5" r="0.52" fill="#2a2a2a" opacity="0.42"/>
<circle cx="86.1" cy="360.3" r="0.51" fill="#2a2a2a" opacity="0.45"/>
<circle cx="21.6" cy="365.5" r="0.49" fill="#2a2a2a" opacity="0.64"/>
<circle cx="61.8" cy="439.6" r="0.42" fill="#2a2a2a" opacity="0.41"/>
<circle cx="60.4" cy="404.8" r="0.62" fill="#2a2a2a" opacity="0.40"/>
<circle cx="28.3" cy="428.1" r="0.64" fill="#2a2a2a" opacity="0.76"/>
<circle cx="114.4" cy="358.7" r="0.58" fill="#2a2a2a" opacity="0.66"/>
<circle cx="36.4" cy="414.6" r="0.32" fill="#2a2a2a" opacity="0.71"/>
<circle cx="117.0" cy="462.3" r="0.57" fill="#2a2a2a" opacity="0.47"/>
<circle cx="127.0" cy="384.3" r="0.35" fill="#2a2a2a" opacity="0.53"/>
<circle cx="86.0" cy="389.4" r="0.51" fill="#2a2a2a" opacity="0.62"/>
<circle cx="49.8" cy="436.7" r="0.43" fill="#2a2a2a" opacity="0.68"/>
<circle cx="56.9" cy="461.5" r="0.45" fill="#2a2a2a" opacity="0.60"/>
<circle cx="110.7" cy="422.1" r="0.39" fill="#2a2a2a" opacity="0.79"/>
<circle cx="29.7" cy="394.9" r="0.49" fill="#2a2a2a" opacity="0.36"/>
<circle cx="37.9" cy="461.5" r="0.57" fill="#2a2a2a" opacity="0.64"/>
<circle cx="142.7" cy="455.4" r="0.40" fill="#2a2a2a" opacity="0.64"/>
<circle cx="63.9" cy="454.6" r="0.43" fill="#2a2a2a" opacity="0.42"/>
<circle cx="139.2" cy="446.2" r="0.56" fill="#2a2a2a" opacity="0.60"/>
<circle cx="126.0" cy="412.2" r="0.50" fill="#2a2a2a" opacity="0.38"/>
<circle cx="94.1" cy="463.7" r="0.55" fill="#2a2a2a" opacity="0.71"/>
<circle cx="85.8" cy="473.0" r="0.34" fill="#2a2a2a" opacity="0.74"/>
<circle cx="68.3" cy="362.1" r="0.52" fill="#2a2a2a" opacity="0.55"/>
<circle cx="76.3" cy="468.9" r="0.35" fill="#2a2a2a" opacity="0.63"/>
<circle cx="74.2" cy="423.5" r="0.47" fill="#2a2a2a" opacity="0.41"/>
<circle cx="88.0" cy="470.3" r="0.36" fill="#2a2a2a" opacity="0.36"/>
<circle cx="25.7" cy="413.9" r="0.64" fill="#2a2a2a" opacity="0.37"/>
<circle cx="155.2" cy="424.6" r="0.34" fill="#2a2a2a" opacity="0.54"/>
<circle cx="45.3" cy="449.6" r="0.49" fill="#2a2a2a" opacity="0.48"/>
<circle cx="52.0" cy="471.0" r="0.57" fill="#2a2a2a" opacity="0.55"/>
<circle cx="73.1" cy="452.8" r="0.64" fill="#2a2a2a" opacity="0.39"/>
<circle cx="38.5" cy="400.2" r="0.48" fill="#2a2a2a" opacity="0.38"/>
<circle cx="23.7" cy="380.1" r="0.44" fill="#2a2a2a" opacity="0.68"/>
<circle cx="101.8" cy="353.4" r="0.32" fill="#2a2a2a" opacity="0.55"/>
<circle cx="138.9" cy="477.8" r="0.43" fill="#2a2a2a" opacity="0.75"/>
<circle cx="146.6" cy="406.4" r="0.56" fill="#2a2a2a" opacity="0.51"/>
<circle cx="37.7" cy="430.1" r="0.33" fill="#2a2a2a" opacity="0.65"/>
<circle cx="129.7" cy="477.8" r="0.46" fill="#2a2a2a" opacity="0.40"/>
<circle cx="142.8" cy="471.5" r="0.64" fill="#2a2a2a" opacity="0.62"/>
<circle cx="110.7" cy="401.7" r="0.36" fill="#2a2a2a" opacity="0.48"/>
<circle cx="117.3" cy="394.9" r="0.54" fill="#2a2a2a" opacity="0.58"/>
<circle cx="79.2" cy="485.2" r="0.36" fill="#2a2a2a" opacity="0.57"/>
<circle cx="38.6" cy="480.9" r="0.47" fill="#2a2a2a" opacity="0.50"/>
<circle cx="39.8" cy="432.7" r="0.44" fill="#2a2a2a" opacity="0.41"/>
<circle cx="20.7" cy="404.2" r="0.50" fill="#2a2a2a" opacity="0.58"/>
<circle cx="142.5" cy="477.3" r="0.63" fill="#2a2a2a" opacity="0.71"/>
<circle cx="83.2" cy="422.8" r="0.44" fill="#2a2a2a" opacity="0.53"/>
<circle cx="22.0" cy="461.5" r="0.39" fill="#2a2a2a" opacity="0.36"/>
<circle cx="81.6" cy="450.1" r="0.45" fill="#2a2a2a" opacity="0.51"/>
<circle cx="108.6" cy="372.2" r="0.30" fill="#2a2a2a" opacity="0.62"/>
<circle cx="90.6" cy="470.9" r="0.45" fill="#2a2a2a" opacity="0.70"/>
<circle cx="18.7" cy="353.1" r="0.51" fill="#2a2a2a" opacity="0.45"/>
<circle cx="25.6" cy="367.2" r="0.43" fill="#2a2a2a" opacity="0.50"/>
<circle cx="95.3" cy="473.9" r="0.43" fill="#2a2a2a" opacity="0.43"/>
<circle cx="97.3" cy="349.6" r="0.43" fill="#2a2a2a" opacity="0.49"/>
<circle cx="70.6" cy="356.4" r="0.49" fill="#2a2a2a" opacity="0.63"/>
<circle cx="121.4" cy="483.7" r="0.42" fill="#2a2a2a" opacity="0.65"/>
<circle cx="78.2" cy="379.5" r="0.61" fill="#2a2a2a" opacity="0.69"/>
<circle cx="148.5" cy="464.6" r="0.62" fill="#2a2a2a" opacity="0.41"/>
<circle cx="18.4" cy="377.2" r="0.44" fill="#2a2a2a" opacity="0.66"/>
<circle cx="77.7" cy="421.4" r="0.57" fill="#2a2a2a" opacity="0.38"/>
<circle cx="111.4" cy="356.1" r="0.39" fill="#2a2a2a" opacity="0.68"/>
<circle cx="112.0" cy="406.2" r="0.40" fill="#2a2a2a" opacity="0.72"/>
<circle cx="54.7" cy="353.7" r="0.39" fill="#2a2a2a" opacity="0.36"/>
<circle cx="129.9" cy="366.5" r="0.64" fill="#2a2a2a" opacity="0.45"/>
<circle cx="59.1" cy="431.5" r="0.41" fill="#2a2a2a" opacity="0.52"/>
<circle cx="30.8" cy="403.9" r="0.31" fill="#2a2a2a" opacity="0.45"/>
<circle cx="143.8" cy="388.7" r="0.39" fill="#2a2a2a" opacity="0.66"/>
<circle cx="140.1" cy="390.8" r="0.43" fill="#2a2a2a" opacity="0.67"/>
<circle cx="127.3" cy="435.5" r="0.36" fill="#2a2a2a" opacity="0.43"/>
<circle cx="122.5" cy="448.5" r="0.61" fill="#2a2a2a" opacity="0.70"/>
<circle cx="75.3" cy="368.0" r="0.61" fill="#2a2a2a" opacity="0.66"/>
<circle cx="97.1" cy="445.0" r="0.43" fill="#2a2a2a" opacity="0.50"/>
<circle cx="96.9" cy="417.1" r="0.55" fill="#2a2a2a" opacity="0.77"/>
<circle cx="135.1" cy="403.7" r="0.43" fill="#2a2a2a" opacity="0.77"/>
<circle cx="71.6" cy="461.7" r="0.33" fill="#2a2a2a" opacity="0.55"/>
<circle cx="88.6" cy="462.9" r="0.61" fill="#2a2a2a" opacity="0.42"/>
<circle cx="102.8" cy="437.6" r="0.35" fill="#2a2a2a" opacity="0.73"/>
<circle cx="93.9" cy="484.3" r="0.37" fill="#2a2a2a" opacity="0.59"/>
<circle cx="61.6" cy="439.5" r="0.51" fill="#2a2a2a" opacity="0.58"/>
<circle cx="61.8" cy="420.1" r="0.43" fill="#2a2a2a" opacity="0.75"/>
<circle cx="81.0" cy="416.0" r="0.39" fill="#2a2a2a" opacity="0.46"/>
<circle cx="150.0" cy="393.4" r="0.60" fill="#2a2a2a" opacity="0.62"/>
<circle cx="153.8" cy="372.3" r="0.63" fill="#2a2a2a" opacity="0.70"/>
<circle cx="95.9" cy="448.8" r="0.55" fill="#2a2a2a" opacity="0.55"/>
<circle cx="105.2" cy="381.4" r="0.31" fill="#2a2a2a" opacity="0.65"/>
<circle cx="82.8" cy="476.4" r="0.39" fill="#2a2a2a" opacity="0.72"/>
<circle cx="154.6" cy="475.4" r="0.64" fill="#2a2a2a" opacity="0.42"/>
<circle cx="39.4" cy="381.4" r="0.43" fill="#2a2a2a" opacity="0.40"/>
<circle cx="37.3" cy="351.9" r="0.63" fill="#2a2a2a" opacity="0.51"/>
<circle cx="104.0" cy="413.1" r="0.56" fill="#2a2a2a" opacity="0.71"/>
<circle cx="69.9" cy="424.5" r="0.33" fill="#2a2a2a" opacity="0.48"/>
<circle cx="47.5" cy="392.6" r="0.41" fill="#2a2a2a" opacity="0.61"/>
<circle cx="62.9" cy="395.2" r="0.59" fill="#2a2a2a" opacity="0.36"/>
<circle cx="16.9" cy="357.3" r="0.60" fill="#2a2a2a" opacity="0.64"/>
<circle cx="118.3" cy="483.8" r="0.38" fill="#2a2a2a" opacity="0.76"/>
<circle cx="50.2" cy="422.1" r="0.54" fill="#2a2a2a" opacity="0.71"/>
<circle cx="51.0" cy="416.3" r="0.32" fill="#2a2a2a" opacity="0.48"/>
<circle cx="153.8" cy="476.4" r="0.50" fill="#2a2a2a" opacity="0.70"/>
<circle cx="142.8" cy="395.9" r="0.64" fill="#2a2a2a" opacity="0.55"/>
<circle cx="38.5" cy="423.7" r="0.51" fill="#2a2a2a" opacity="0.66"/>
<circle cx="110.3" cy="355.1" r="0.52" fill="#2a2a2a" opacity="0.76"/>
<circle cx="110.2" cy="486.2" r="0.48" fill="#2a2a2a" opacity="0.71"/>
<circle cx="35.9" cy="475.0" r="0.45" fill="#2a2a2a" opacity="0.74"/>
<circle cx="61.2" cy="437.0" r="0.60" fill="#2a2a2a" opacity="0.67"/>
<circle cx="103.2" cy="485.6" r="0.33" fill="#2a2a2a" opacity="0.40"/>
<circle cx="93.6" cy="483.3" r="0.54" fill="#2a2a2a" opacity="0.49"/>
<circle cx="31.3" cy="412.2" r="0.47" fill="#2a2a2a" opacity="0.56"/>
<circle cx="103.1" cy="387.6" r="0.61" fill="#2a2a2a" opacity="0.48"/>
<circle cx="31.2" cy="398.3" r="0.63" fill="#2a2a2a" opacity="0.42"/>
<circle cx="55.2" cy="479.4" r="0.42" fill="#2a2a2a" opacity="0.73"/>
<circle cx="22.6" cy="474.0" r="0.38" fill="#2a2a2a" opacity="0.43"/>
<circle cx="120.3" cy="488.2" r="0.64" fill="#2a2a2a" opacity="0.69"/>
<circle cx="144.5" cy="487.9" r="0.49" fill="#2a2a2a" opacity="0.42"/>
<circle cx="135.4" cy="404.9" r="0.41" fill="#2a2a2a" opacity="0.58"/>
<circle cx="21.1" cy="351.9" r="0.39" fill="#2a2a2a" opacity="0.62"/>
<circle cx="121.3" cy="483.7" r="0.59" fill="#2a2a2a" opacity="0.77"/>
<circle cx="105.5" cy="452.3" r="0.51" fill="#2a2a2a" opacity="0.39"/>
<circle cx="24.9" cy="456.0" r="0.37" fill="#2a2a2a" opacity="0.71"/>
<circle cx="81.3" cy="350.3" r="0.50" fill="#2a2a2a" opacity="0.55"/>
<circle cx="26.6" cy="386.0" r="0.41" fill="#2a2a2a" opacity="0.51"/>
<circle cx="115.4" cy="372.8" r="0.46" fill="#2a2a2a" opacity="0.62"/>
<circle cx="149.0" cy="365.4" r="0.33" fill="#2a2a2a" opacity="0.44"/>
<circle cx="47.1" cy="372.2" r="0.33" fill="#2a2a2a" opacity="0.44"/>
<circle cx="47.5" cy="416.6" r="0.53" fill="#2a2a2a" opacity="0.51"/>
<circle cx="39.8" cy="362.6" r="0.39" fill="#2a2a2a" opacity="0.43"/>
<circle cx="83.7" cy="471.6" r="0.55" fill="#2a2a2a" opacity="0.44"/>
<circle cx="21.2" cy="358.8" r="0.45" fill="#2a2a2a" opacity="0.51"/>
<circle cx="111.9" cy="361.1" r="0.39" fill="#2a2a2a" opacity="0.66"/>
<circle cx="95.9" cy="421.8" r="0.62" fill="#2a2a2a" opacity="0.40"/>
<circle cx="43.6" cy="428.7" r="0.50" fill="#2a2a2a" opacity="0.79"/>
<circle cx="153.3" cy="431.8" r="0.57" fill="#2a2a2a" opacity="0.66"/>
<circle cx="34.9" cy="433.9" r="0.41" fill="#2a2a2a" opacity="0.51"/>
<circle cx="38.1" cy="350.5" r="0.60" fill="#2a2a2a" opacity="0.67"/>
<circle cx="121.7" cy="389.7" r="0.45" fill="#2a2a2a" opacity="0.43"/>
<circle cx="100.7" cy="467.1" r="0.57" fill="#2a2a2a" opacity="0.77"/>
<circle cx="52.7" cy="447.8" r="0.34" fill="#2a2a2a" opacity="0.59"/>
<circle cx="31.7" cy="425.2" r="0.49" fill="#2a2a2a" opacity="0.51"/>
<circle cx="65.2" cy="449.1" r="0.47" fill="#2a2a2a" opacity="0.53"/>
<circle cx="32.0" cy="388.9" r="0.60" fill="#2a2a2a" opacity="0.79"/>
<circle cx="68.6" cy="471.6" r="0.61" fill="#2a2a2a" opacity="0.45"/>
<circle cx="54.6" cy="447.0" r="0.41" fill="#2a2a2a" opacity="0.78"/>
<circle cx="38.3" cy="461.9" r="0.5" fill="#333" opacity="0.7"/>
<circle cx="55.4" cy="446.4" r="0.5" fill="#333" opacity="0.7"/>
<circle cx="42.6" cy="459.0" r="0.5" fill="#333" opacity="0.7"/>
<circle cx="33.6" cy="465.3" r="0.5" fill="#333" opacity="0.7"/>
<circle cx="33.4" cy="465.4" r="0.5" fill="#333" opacity="0.7"/>
<circle cx="50.3" cy="451.7" r="0.5" fill="#333" opacity="0.7"/>
<circle cx="50.6" cy="453.1" r="0.5" fill="#333" opacity="0.7"/>
<circle cx="64.2" cy="447.4" r="0.5" fill="#333" opacity="0.7"/>
<circle cx="23.8" cy="460.2" r="0.5" fill="#333" opacity="0.7"/>
<circle cx="35.1" cy="463.1" r="0.5" fill="#333" opacity="0.7"/>
<circle cx="30.0" cy="456.1" r="0.5" fill="#333" opacity="0.7"/>
<circle cx="26.1" cy="467.3" r="0.5" fill="#333" opacity="0.7"/>
<circle cx="36.6" cy="457.5" r="0.5" fill="#333" opacity="0.7"/>
<circle cx="58.2" cy="448.5" r="0.5" fill="#333" opacity="0.7"/>
<circle cx="57.1" cy="447.0" r="0.5" fill="#333" opacity="0.7"/>
<ellipse cx="127.5" cy="385.5" rx="1.1" ry="2" fill="#222"/>
<ellipse cx="103.5" cy="362.5" rx="1" ry="1" fill="#222"/>
<ellipse cx="105" cy="381.5" rx="0.8" ry="0.8" fill="#333"/>
<text x="156.4" y="219.9" font-size="12" text-anchor="end" font-weight="normal" fill="#f0f0f0">SE</text>
<text x="156.8" y="362.0" font-size="12" text-anchor="end" font-weight="normal" fill="#f0f0f0">BSE</text>
<line x1="29.9" y1="334.4" x2="69.8" y2="334.4" stroke="#fff" stroke-width="1.8"/>
<text x="50" y="330.4" font-size="10" text-anchor="middle" fill="#fff">100 <tspan font-style="italic">µ</tspan>m</text>
<line x1="29.9" y1="476.2" x2="69.8" y2="476.2" stroke="#fff" stroke-width="1.8"/>
<text x="50" y="472.3" font-size="10" text-anchor="middle" fill="#fff">100 <tspan font-style="italic">µ</tspan>m</text>
<rect x="97.1" y="417.0" width="35.0" height="35.0" fill="none" stroke="#e01010" stroke-width="1.3" stroke-dasharray="2.6 1.6"/>
<text x="0.4" y="224.0" font-size="18" text-anchor="start" font-weight="bold" fill="#000">b</text>
<rect x="186.0" y="206.1" width="142.3" height="142.4" filter="url(#fGr)"/>
<rect x="328.3" y="206.1" width="141.8" height="142.4" filter="url(#fBi)"/>
<rect x="186.0" y="348.5" width="142.3" height="142.3" filter="url(#fSb)"/>
<rect x="328.3" y="348.5" width="141.8" height="142.3" filter="url(#fTe)"/>
<line x1="328.3" y1="206.1" x2="328.3" y2="490.8" stroke="#9a9a9a" stroke-width="0.8"/>
<line x1="186.0" y1="348.5" x2="470.1" y2="348.5" stroke="#9a9a9a" stroke-width="0.8"/>
<line x1="186.0" y1="206.6" x2="470.1" y2="206.6" stroke="#c0c0c0" stroke-width="1" opacity="0.55"/>
<g clip-path="url(#cpBi)" filter="url(#blur3)"><path d="M325,350 C370,318 420,292 474,250" fill="none" stroke="#3aa0f0" stroke-width="30" opacity="0.16"/><path d="M335,333 C365,315 390,302 412,291 C432,281 452,262 474,242" fill="none" stroke="#44a8f6" stroke-width="13" opacity="0.38"/><path d="M398,266 C405,252 415,243 432,236 C448,230 460,228 474,226" fill="none" stroke="#50b0ff" stroke-width="5" opacity="0.4"/><path d="M438,352 C452,335 462,322 474,308" fill="none" stroke="#3aa0f0" stroke-width="16" opacity="0.14"/></g>
<g clip-path="url(#cpSb)" filter="url(#blur3)"><path d="M192.7,475.4 C222.7,457.4 247.7,444.4 269.7,433.4 C289.7,423.4 309.7,404.4 331.7,384.4" fill="none" stroke="#063006" stroke-width="14" opacity="0.14"/></g>
<g clip-path="url(#cpGr)" filter="url(#blur3)"><path d="M180,352 C230,318 280,285 335,252" fill="none" stroke="#fff" stroke-width="26" opacity="0.07"/><path d="M250,282 C265,284 280,287 292,291" fill="none" stroke="#333" stroke-width="1.5" opacity="0.25"/></g>
<circle cx="227" cy="317.4" r="1.4" fill="none" stroke="#222" stroke-width="0.8"/>
<ellipse cx="310" cy="231.2" rx="2" ry="1.3" fill="#111"/>
<ellipse cx="318.9" cy="240" rx="1.1" ry="1.1" fill="#222"/>
<ellipse cx="220" cy="259" rx="0.8" ry="0.8" fill="#333"/>
<ellipse cx="404.6" cy="276.5" rx="2.4" ry="1.0" fill="#012"/>
<ellipse cx="454.4" cy="254.1" rx="1.1" ry="1.0" fill="#012"/>
<ellipse cx="429.5" cy="286.4" rx="1.1" ry="1.0" fill="#012"/>
<ellipse cx="421.2" cy="301" rx="1.0" ry="0.9" fill="#012"/>
<ellipse cx="364.2" cy="332.5" rx="0.8" ry="0.8" fill="#012"/>
<ellipse cx="258.6" cy="420.6" rx="2.2" ry="0.9" fill="#021"/>
<ellipse cx="285.6" cy="431" rx="1.0" ry="1.0" fill="#021"/>
<ellipse cx="311.7" cy="397.8" rx="1.0" ry="1.0" fill="#021"/>
<ellipse cx="453" cy="371" rx="1.5" ry="0.8" fill="#200"/>
<ellipse cx="364" cy="466" rx="1.2" ry="0.8" fill="#200"/>
<ellipse cx="455" cy="396" rx="1.6" ry="1.1" fill="#ff9a30"/>
<ellipse cx="402" cy="418" rx="1.6" ry="1.1" fill="#ff9a30"/>
<ellipse cx="429" cy="428" rx="1.6" ry="1.1" fill="#ff9a30"/>
<ellipse cx="352" cy="487" rx="1.6" ry="1.1" fill="#ff9a30"/>
<text x="467.0" y="219.9" font-size="11.5" text-anchor="end" font-weight="normal" fill="#fff">Bi</text>
<text x="326.6" y="362.4" font-size="12" text-anchor="end" font-weight="normal" fill="#fff">Sb</text>
<text x="467.3" y="361.9" font-size="11.5" text-anchor="end" font-weight="normal" fill="#fff">Te</text>
<text x="262.0" y="263.7" font-size="10" text-anchor="start" font-weight="normal" fill="#f0891e">Bi-rich domain</text>
<text x="261.0" y="299.8" font-size="10" text-anchor="start" font-weight="normal" fill="#26aaf0">Sb-rich domain</text>
<path d="M292.7,269.2 h6 M295.7,266.2 v6" stroke="#f0891e" stroke-width="1.6"/>
<path d="M279.2,307.5 h6 M282.2,304.5 v6" stroke="#26aaf0" stroke-width="1.6"/>
<line x1="248" y1="294.3" x2="287.5" y2="321.2" stroke="#ee1111" stroke-width="1.8" stroke-dasharray="4 2"/>
<path d="M291.5,324 L283.2,321.6 L286.8,316.4 Z" fill="#ee1111"/>
<line x1="200.3" y1="334.3" x2="241" y2="334.3" stroke="#fff" stroke-width="1.8"/>
<text x="220.6" y="331" font-size="10" text-anchor="middle" fill="#fff">25 <tspan font-style="italic">µ</tspan>m</text>
<text x="170.7" y="224.0" font-size="18" text-anchor="start" font-weight="bold" fill="#000">c</text>
<path d="M526.90,258.18 L527.56,253.79 L528.22,262.98 L528.88,268.70 L529.55,274.83 L530.21,266.15 L530.87,260.56 L531.53,258.63 L532.19,271.71 L532.85,279.29 L533.51,267.75 L534.17,254.99 L534.84,257.38 L535.50,279.17 L536.16,267.33 L536.82,250.93 L537.48,264.98 L538.14,255.85 L538.80,260.43 L539.46,261.68 L540.13,259.81 L540.79,270.62 L541.45,265.42 L542.11,260.99 L542.77,269.53 L543.43,273.14 L544.09,252.16 L544.76,263.99 L545.42,257.88 L546.08,264.79 L546.74,255.34 L547.40,266.52 L548.06,266.07 L548.72,263.85 L549.38,257.57 L550.05,263.15 L550.71,257.29 L551.37,255.09 L552.03,268.56 L552.69,257.27 L553.35,276.69 L554.01,272.87 L554.67,249.84 L555.34,269.18 L556.00,257.55 L556.66,267.24 L557.32,267.37 L557.98,250.42 L558.64,265.67 L559.30,265.80 L559.97,276.48 L560.63,258.59 L561.29,275.23 L561.95,259.94 L562.61,266.79 L563.27,262.79 L563.93,282.58 L564.59,275.42 L565.26,291.58 L565.92,276.70 L566.58,278.75 L567.24,279.04 L567.90,267.15 L568.56,272.17 L569.22,284.70 L569.88,270.30 L570.55,275.74 L571.21,274.41 L571.87,280.22 L572.53,272.40 L573.19,274.66 L573.85,278.47 L574.51,277.75 L575.18,269.97 L575.84,285.40 L576.50,267.20 L577.16,268.49 L577.82,268.16 L578.48,287.48 L579.14,276.39 L579.80,271.40 L580.47,270.19 L581.13,283.62 L581.79,271.27 L582.45,269.62 L583.11,285.85 L583.77,270.65 L584.43,278.28 L585.09,281.16 L585.76,277.63 L586.42,281.15 L587.08,293.18 L587.74,277.61 L588.40,271.23 L589.06,266.26 L589.72,280.06 L590.39,278.74 L591.05,283.93 L591.71,277.66 L592.37,277.48 L593.03,275.35 L593.69,277.00 L594.35,282.71 L595.01,278.05 L595.68,282.07 L596.34,297.31 L597.00,285.16 L597.66,267.62 L598.32,295.47 L598.98,283.30 L599.64,271.95 L600.30,287.28 L600.97,279.32 L601.63,273.55 L602.29,273.01 L602.95,269.56 L603.61,278.02 L604.27,286.30 L604.93,274.06 L605.60,280.01 L606.26,291.99 L606.92,265.33 L607.58,277.45 L608.24,272.24 L608.90,265.39 L609.56,265.22 L610.22,273.35 L610.89,276.71 L611.55,268.05 L612.21,272.57 L612.87,277.79 L613.53,273.72 L614.19,278.12 L614.85,274.20 L615.51,273.97 L616.18,284.90 L616.84,274.21 L617.50,269.56 L618.16,274.03 L618.82,260.12 L619.48,265.00 L620.14,274.55 L620.81,273.10 L621.47,280.83 L622.13,267.70 L622.79,255.11 L623.45,284.03 L624.11,276.70 L624.77,258.35 L625.43,278.98 L626.10,267.49 L626.76,251.73 L627.42,263.51 L628.08,262.70 L628.74,280.48 L629.40,260.16 L630.06,264.67 L630.72,264.41 L631.39,263.47 L632.05,258.86 L632.71,268.43 L633.37,275.65 L634.03,271.74 L634.69,258.49 L635.35,256.53 L636.02,267.25 L636.68,260.17 L637.34,260.75 L638.00,251.77 L638.66,282.57 L639.32,273.75 L639.98,257.65 L640.64,273.61 L641.31,277.27 L641.97,245.51 L642.63,261.13 L643.29,262.46 L643.95,271.24 L644.61,264.66 L645.27,263.70 L645.93,265.13 L646.60,281.35 L647.26,283.93 L647.92,261.07 L648.58,257.63 L649.24,288.35 L649.90,257.11 L650.56,260.53 L651.23,265.68 L651.89,269.44 L652.55,274.05 L653.21,268.60 L653.87,257.82 L654.53,269.51 L655.19,267.30 L655.85,281.10 L656.52,264.98 L657.18,253.71 L657.84,256.16 L658.50,277.34 L659.16,260.39 L659.82,247.06 L660.48,259.98 L661.14,264.88 L661.81,274.95 L662.47,256.19 L663.13,270.45 L663.79,271.51 L664.45,258.77 L665.11,263.09 L665.77,279.69 L666.44,279.24 L667.10,271.86 L667.76,267.38 L668.42,274.20 L669.08,263.29 L669.74,263.65 L670.40,257.11 L671.06,264.44 L671.73,263.66 L672.39,287.90 L673.05,262.65 L673.71,275.06 L674.37,275.45 L675.03,262.61 L675.69,274.10 L676.35,245.63 L677.02,264.90 L677.68,271.35 L678.34,243.65 L679.00,254.15" fill="none" stroke="#ff8410" stroke-width="1.7" stroke-linejoin="round"/>
<path d="M526.90,340.39 L527.56,331.22 L528.22,325.36 L528.88,330.45 L529.55,329.29 L530.21,338.18 L530.87,336.31 L531.53,331.19 L532.19,328.52 L532.85,332.82 L533.51,342.49 L534.17,335.68 L534.84,337.73 L535.50,332.23 L536.16,324.26 L536.82,328.35 L537.48,337.91 L538.14,334.09 L538.80,327.06 L539.46,322.09 L540.13,334.21 L540.79,331.08 L541.45,331.02 L542.11,331.19 L542.77,335.51 L543.43,335.60 L544.09,340.30 L544.76,340.09 L545.42,342.93 L546.08,339.27 L546.74,331.30 L547.40,333.29 L548.06,337.16 L548.72,331.55 L549.38,337.59 L550.05,341.84 L550.71,328.17 L551.37,321.41 L552.03,342.18 L552.69,333.97 L553.35,338.83 L554.01,324.57 L554.67,346.04 L555.34,339.11 L556.00,333.07 L556.66,331.51 L557.32,334.80 L557.98,333.18 L558.64,332.74 L559.30,327.21 L559.97,344.23 L560.63,335.46 L561.29,336.61 L561.95,337.09 L562.61,320.28 L563.27,340.82 L563.93,335.17 L564.59,335.80 L565.26,339.01 L565.92,332.76 L566.58,346.51 L567.24,336.78 L567.90,336.37 L568.56,337.70 L569.22,345.89 L569.88,351.05 L570.55,342.70 L571.21,337.34 L571.87,356.39 L572.53,342.54 L573.19,358.69 L573.85,350.27 L574.51,346.09 L575.18,346.82 L575.84,354.86 L576.50,358.18 L577.16,350.90 L577.82,359.24 L578.48,367.54 L579.14,351.80 L579.80,345.54 L580.47,346.53 L581.13,344.51 L581.79,350.09 L582.45,349.82 L583.11,345.81 L583.77,358.93 L584.43,337.07 L585.09,346.23 L585.76,369.72 L586.42,363.00 L587.08,359.53 L587.74,359.20 L588.40,368.53 L589.06,360.01 L589.72,356.93 L590.39,347.91 L591.05,356.14 L591.71,351.65 L592.37,351.97 L593.03,351.94 L593.69,356.43 L594.35,354.24 L595.01,362.45 L595.68,346.87 L596.34,354.77 L597.00,368.78 L597.66,355.84 L598.32,363.76 L598.98,363.13 L599.64,364.19 L600.30,359.95 L600.97,344.92 L601.63,352.52 L602.29,351.53 L602.95,343.16 L603.61,350.23 L604.27,344.21 L604.93,340.78 L605.60,353.39 L606.26,351.09 L606.92,346.05 L607.58,343.69 L608.24,346.04 L608.90,346.55 L609.56,345.93 L610.22,347.89 L610.89,344.69 L611.55,349.93 L612.21,350.36 L612.87,348.68 L613.53,341.05 L614.19,340.92 L614.85,347.83 L615.51,342.95 L616.18,343.57 L616.84,325.97 L617.50,324.06 L618.16,344.86 L618.82,344.35 L619.48,351.34 L620.14,346.18 L620.81,342.23 L621.47,340.33 L622.13,329.77 L622.79,345.49 L623.45,334.69 L624.11,342.17 L624.77,339.79 L625.43,340.04 L626.10,344.12 L626.76,334.18 L627.42,334.64 L628.08,331.10 L628.74,334.19 L629.40,348.23 L630.06,333.76 L630.72,344.34 L631.39,341.56 L632.05,340.63 L632.71,340.88 L633.37,327.90 L634.03,337.52 L634.69,345.92 L635.35,329.84 L636.02,334.28 L636.68,329.69 L637.34,336.63 L638.00,326.77 L638.66,345.49 L639.32,331.48 L639.98,323.22 L640.64,346.46 L641.31,340.62 L641.97,337.36 L642.63,337.36 L643.29,331.03 L643.95,331.87 L644.61,338.41 L645.27,339.66 L645.93,339.67 L646.60,334.53 L647.26,329.68 L647.92,331.50 L648.58,340.52 L649.24,342.73 L649.90,330.17 L650.56,329.12 L651.23,341.09 L651.89,337.33 L652.55,337.04 L653.21,322.88 L653.87,329.36 L654.53,328.29 L655.19,333.27 L655.85,319.94 L656.52,340.56 L657.18,333.68 L657.84,334.55 L658.50,323.14 L659.16,331.16 L659.82,340.61 L660.48,320.20 L661.14,333.25 L661.81,335.93 L662.47,326.11 L663.13,336.58 L663.79,328.49 L664.45,339.33 L665.11,334.34 L665.77,332.14 L666.44,344.55 L667.10,336.23 L667.76,339.49 L668.42,321.93 L669.08,325.65 L669.74,335.95 L670.40,336.36 L671.06,329.55 L671.73,335.32 L672.39,322.37 L673.05,331.20 L673.71,321.60 L674.37,331.93 L675.03,326.07 L675.69,324.90 L676.35,329.71 L677.02,341.96 L677.68,322.07 L678.34,324.87 L679.00,336.47" fill="none" stroke="#10f010" stroke-width="1.7" stroke-linejoin="round"/>
<path d="M526.90,440.88 L527.56,451.82 L528.22,444.06 L528.88,443.37 L529.55,444.68 L530.21,451.58 L530.87,446.12 L531.53,445.40 L532.19,444.05 L532.85,434.95 L533.51,438.31 L534.17,450.13 L534.84,446.80 L535.50,445.19 L536.16,445.82 L536.82,439.89 L537.48,444.27 L538.14,438.05 L538.80,444.49 L539.46,438.93 L540.13,441.41 L540.79,444.72 L541.45,440.79 L542.11,445.64 L542.77,444.65 L543.43,444.15 L544.09,448.94 L544.76,434.93 L545.42,434.29 L546.08,445.32 L546.74,446.92 L547.40,452.25 L548.06,445.95 L548.72,446.29 L549.38,437.70 L550.05,445.85 L550.71,445.43 L551.37,436.76 L552.03,437.53 L552.69,440.92 L553.35,442.14 L554.01,425.19 L554.67,439.48 L555.34,439.50 L556.00,436.68 L556.66,438.12 L557.32,438.28 L557.98,430.22 L558.64,436.65 L559.30,432.59 L559.97,428.40 L560.63,433.46 L561.29,439.13 L561.95,423.68 L562.61,422.00 L563.27,421.28 L563.93,438.71 L564.59,426.85 L565.26,427.09 L565.92,422.74 L566.58,421.25 L567.24,415.10 L567.90,424.69 L568.56,423.40 L569.22,410.48 L569.88,413.41 L570.55,413.16 L571.21,415.01 L571.87,414.63 L572.53,417.30 L573.19,416.75 L573.85,413.53 L574.51,413.16 L575.18,398.93 L575.84,400.55 L576.50,407.61 L577.16,401.90 L577.82,399.12 L578.48,387.69 L579.14,386.86 L579.80,398.37 L580.47,395.66 L581.13,392.39 L581.79,391.72 L582.45,386.00 L583.11,395.46 L583.77,398.69 L584.43,401.65 L585.09,393.59 L585.76,392.24 L586.42,387.69 L587.08,399.20 L587.74,401.53 L588.40,390.33 L589.06,395.24 L589.72,394.63 L590.39,391.70 L591.05,386.00 L591.71,393.52 L592.37,398.78 L593.03,388.89 L593.69,392.24 L594.35,386.00 L595.01,403.51 L595.68,399.91 L596.34,397.97 L597.00,396.71 L597.66,395.20 L598.32,398.32 L598.98,397.49 L599.64,398.13 L600.30,399.53 L600.97,400.65 L601.63,408.09 L602.29,393.43 L602.95,402.31 L603.61,398.14 L604.27,395.82 L604.93,389.94 L605.60,405.08 L606.26,397.35 L606.92,398.77 L607.58,405.13 L608.24,397.62 L608.90,403.43 L609.56,403.18 L610.22,407.83 L610.89,409.13 L611.55,400.01 L612.21,409.19 L612.87,404.38 L613.53,405.74 L614.19,404.32 L614.85,409.52 L615.51,399.85 L616.18,407.47 L616.84,412.31 L617.50,405.27 L618.16,417.09 L618.82,405.66 L619.48,412.80 L620.14,411.71 L620.81,413.42 L621.47,413.59 L622.13,419.51 L622.79,424.99 L623.45,424.28 L624.11,435.75 L624.77,440.33 L625.43,426.07 L626.10,438.86 L626.76,436.61 L627.42,437.86 L628.08,449.93 L628.74,444.20 L629.40,440.20 L630.06,439.79 L630.72,428.45 L631.39,443.49 L632.05,436.23 L632.71,441.20 L633.37,441.15 L634.03,445.82 L634.69,451.51 L635.35,446.63 L636.02,448.42 L636.68,441.23 L637.34,445.03 L638.00,446.95 L638.66,436.25 L639.32,454.00 L639.98,440.57 L640.64,438.11 L641.31,453.01 L641.97,455.78 L642.63,442.02 L643.29,442.82 L643.95,460.00 L644.61,446.64 L645.27,436.20 L645.93,443.10 L646.60,456.21 L647.26,449.54 L647.92,450.05 L648.58,452.46 L649.24,449.76 L649.90,444.75 L650.56,438.49 L651.23,448.74 L651.89,440.97 L652.55,446.31 L653.21,455.43 L653.87,449.38 L654.53,447.02 L655.19,447.10 L655.85,450.47 L656.52,451.46 L657.18,440.31 L657.84,447.87 L658.50,455.56 L659.16,450.75 L659.82,443.12 L660.48,443.51 L661.14,436.57 L661.81,442.88 L662.47,454.85 L663.13,446.43 L663.79,442.47 L664.45,443.84 L665.11,446.13 L665.77,446.12 L666.44,444.85 L667.10,442.74 L667.76,449.74 L668.42,454.21 L669.08,443.65 L669.74,443.75 L670.40,452.37 L671.06,439.07 L671.73,443.40 L672.39,444.44 L673.05,447.13 L673.71,444.89 L674.37,441.80 L675.03,447.75 L675.69,440.22 L676.35,437.42 L677.02,435.96 L677.68,449.81 L678.34,437.35 L679.00,448.24" fill="none" stroke="#1a9cff" stroke-width="1.7" stroke-linejoin="round"/>
<rect x="526.9" y="213.8" width="152.10000000000002" height="251.7" fill="none" stroke="#000" stroke-width="1.7"/>
<line x1="526.90" y1="465.5" x2="526.90" y2="468.5" stroke="#000" stroke-width="1.3"/>
<text x="524.60" y="480.6" font-size="12.4" text-anchor="middle" font-weight="normal" fill="#000">0</text>
<line x1="552.25" y1="465.5" x2="552.25" y2="468.5" stroke="#000" stroke-width="1.3"/>
<text x="549.95" y="480.6" font-size="12.4" text-anchor="middle" font-weight="normal" fill="#000">5</text>
<line x1="577.60" y1="465.5" x2="577.60" y2="468.5" stroke="#000" stroke-width="1.3"/>
<text x="575.30" y="480.6" font-size="12.4" text-anchor="middle" font-weight="normal" fill="#000">10</text>
<line x1="602.95" y1="465.5" x2="602.95" y2="468.5" stroke="#000" stroke-width="1.3"/>
<text x="600.65" y="480.6" font-size="12.4" text-anchor="middle" font-weight="normal" fill="#000">15</text>
<line x1="628.30" y1="465.5" x2="628.30" y2="468.5" stroke="#000" stroke-width="1.3"/>
<text x="626.00" y="480.6" font-size="12.4" text-anchor="middle" font-weight="normal" fill="#000">20</text>
<line x1="653.65" y1="465.5" x2="653.65" y2="468.5" stroke="#000" stroke-width="1.3"/>
<text x="651.35" y="480.6" font-size="12.4" text-anchor="middle" font-weight="normal" fill="#000">25</text>
<line x1="679.00" y1="465.5" x2="679.00" y2="468.5" stroke="#000" stroke-width="1.3"/>
<text x="676.70" y="480.6" font-size="12.4" text-anchor="middle" font-weight="normal" fill="#000">30</text>
<text x="593.6" y="252.9" font-size="12.8" text-anchor="middle" font-weight="normal" fill="#000">Te</text>
<text x="593.0" y="329.9" font-size="12.8" text-anchor="middle" font-weight="normal" fill="#000">Sb</text>
<text x="593.9" y="436.0" font-size="12.8" text-anchor="middle" font-weight="normal" fill="#000">Bi</text>
<text x="603.2" y="497.0" font-size="17.3" text-anchor="middle" font-weight="normal" fill="#000">Distance (µm)</text>
<text x="512.3" y="392.6" font-size="17.6" text-anchor="start" font-weight="normal" fill="#000" transform="rotate(-90 512.3 392.6)">Intensity (a.u.)</text>
<text x="481.8" y="224.2" font-size="18" text-anchor="start" font-weight="bold" fill="#000">d</text>
<path d="M48.40,598.37 L48.75,598.11 L49.10,598.24 L49.45,598.13 L49.80,597.81 L50.15,597.86 L50.50,597.48 L50.85,597.40 L51.20,597.52 L51.55,597.62 L51.90,597.75 L52.25,597.52 L52.60,597.19 L52.95,597.24 L53.30,597.22 L53.65,597.59 L54.00,597.84 L54.35,597.49 L54.70,597.46 L55.05,597.23 L55.40,597.06 L55.75,597.03 L56.10,596.83 L56.45,596.69 L56.80,596.71 L57.15,596.76 L57.50,596.88 L57.85,596.75 L58.20,596.65 L58.55,596.64 L58.90,596.31 L59.25,596.20 L59.60,596.21 L59.95,596.16 L60.30,596.18 L60.65,596.30 L61.00,596.06 L61.35,595.97 L61.70,595.86 L62.05,595.78 L62.40,595.92 L62.75,595.80 L63.10,595.90 L63.45,595.71 L63.80,595.51 L64.15,595.34 L64.50,595.18 L64.85,595.25 L65.20,595.20 L65.55,595.27 L65.90,595.38 L66.25,595.47 L66.60,595.30 L66.95,595.41 L67.30,595.01 L67.65,594.71 L68.00,594.80 L68.35,594.65 L68.70,594.70 L69.05,594.67 L69.40,594.66 L69.75,594.54 L70.10,594.56 L70.45,594.68 L70.80,594.75 L71.15,594.79 L71.50,594.83 L71.85,594.72 L72.20,594.54 L72.55,594.46 L72.90,594.31 L73.25,594.35 L73.60,594.36 L73.95,594.37 L74.30,594.48 L74.65,594.44 L75.00,594.58 L75.35,594.53 L75.70,594.43 L76.05,594.36 L76.40,594.08 L76.75,594.23 L77.10,594.43 L77.45,594.54 L77.80,594.67 L78.15,594.66 L78.50,594.73 L78.85,594.76 L79.20,594.79 L79.55,594.57 L79.90,594.61 L80.25,594.57 L80.60,594.55 L80.95,594.89 L81.30,594.88 L81.65,594.81 L82.00,594.94 L82.35,594.86 L82.70,594.99 L83.05,594.99 L83.40,595.01 L83.75,595.07 L84.10,595.17 L84.45,595.31 L84.80,595.08 L85.15,594.99 L85.50,594.91 L85.85,595.17 L86.20,595.75 L86.55,596.00 L86.90,595.93 L87.25,595.99 L87.60,595.85 L87.95,595.83 L88.30,595.97 L88.65,596.06 L89.00,595.98 L89.35,595.85 L89.70,595.70 L90.05,595.20 L90.40,594.46 L90.75,593.06 L91.10,590.68 L91.45,587.07 L91.80,582.00 L92.15,575.65 L92.50,568.60 L92.85,561.52 L93.20,556.27 L93.55,553.81 L93.90,554.31 L94.25,557.81 L94.60,562.86 L94.95,567.66 L95.30,571.37 L95.65,572.97 L96.00,572.82 L96.35,572.12 L96.70,571.24 L97.05,571.74 L97.40,573.73 L97.75,576.79 L98.10,581.08 L98.45,585.38 L98.80,589.22 L99.15,592.20 L99.50,594.06 L99.85,595.23 L100.20,595.84 L100.55,596.37 L100.90,596.70 L101.25,596.87 L101.60,596.97 L101.95,597.07 L102.30,597.06 L102.65,597.30 L103.00,597.21 L103.35,597.05 L103.70,597.24 L104.05,597.15 L104.40,597.17 L104.75,597.21 L105.10,597.01 L105.45,597.03 L105.80,597.17 L106.15,597.08 L106.50,597.19 L106.85,597.03 L107.20,596.94 L107.55,597.01 L107.90,596.88 L108.25,596.95 L108.60,597.00 L108.95,597.02 L109.30,597.19 L109.65,597.09 L110.00,596.85 L110.35,596.73 L110.70,596.61 L111.05,596.62 L111.40,596.84 L111.75,596.96 L112.10,596.91 L112.45,596.88 L112.80,596.68 L113.15,596.69 L113.50,596.65 L113.85,596.52 L114.20,596.49 L114.55,596.30 L114.90,596.46 L115.25,596.58 L115.60,596.33 L115.95,596.02 L116.30,595.35 L116.65,594.69 L117.00,594.34 L117.35,594.00 L117.70,594.16 L118.05,594.50 L118.40,594.83 L118.75,595.35 L119.10,595.57 L119.45,595.87 L119.80,596.16 L120.15,595.84 L120.50,595.47 L120.85,594.79 L121.20,593.98 L121.55,593.61 L121.90,593.70 L122.25,594.20 L122.60,594.94 L122.95,595.44 L123.30,595.85 L123.65,596.02 L124.00,596.13 L124.35,596.49 L124.70,596.44 L125.05,596.63 L125.40,596.78 L125.75,596.78 L126.10,596.88 L126.45,596.60 L126.80,595.88 L127.15,594.80 L127.50,592.62 L127.85,589.00 L128.20,584.11 L128.55,577.81 L128.90,570.78 L129.25,564.73 L129.60,560.63 L129.95,559.32 L130.30,561.69 L130.65,566.83 L131.00,573.21 L131.35,579.70 L131.70,584.73 L132.05,587.08 L132.40,586.68 L132.75,583.16 L133.10,576.05 L133.45,565.96 L133.80,553.71 L134.15,540.66 L134.50,529.58 L134.85,522.53 L135.20,521.12 L135.55,525.86 L135.90,535.61 L136.25,548.19 L136.60,561.43 L136.95,573.40 L137.30,582.80 L137.65,589.29 L138.00,593.39 L138.35,595.70 L138.70,596.85 L139.05,597.59 L139.40,597.56 L139.75,597.03 L140.10,595.96 L140.45,594.11 L140.80,591.52 L141.15,587.53 L141.50,582.65 L141.85,577.14 L142.20,572.11 L142.55,568.51 L142.90,566.68 L143.25,567.25 L143.60,569.99 L143.95,574.51 L144.30,579.73 L144.65,585.00 L145.00,589.53 L145.35,592.97 L145.70,595.59 L146.05,597.11 L146.40,597.97 L146.75,598.24 L147.10,598.43 L147.45,598.71 L147.80,598.41 L148.15,598.26 L148.50,597.79 L148.85,596.80 L149.20,595.70 L149.55,594.61 L149.90,593.09 L150.25,592.29 L150.60,591.98 L150.95,591.94 L151.30,592.87 L151.65,593.90 L152.00,595.40 L152.35,596.84 L152.70,597.90 L153.05,598.84 L153.40,599.38 L153.75,599.68 L154.10,599.90 L154.45,599.85 L154.80,599.82 L155.15,599.90 L155.50,599.96 L155.85,599.98 L156.20,600.07 L156.55,599.89 L156.90,599.75 L157.25,599.63 L157.60,599.11 L157.95,598.77 L158.30,598.55 L158.65,598.05 L159.00,598.11 L159.35,597.99 L159.70,597.99 L160.05,598.28 L160.40,598.50 L160.75,599.02 L161.10,599.33 L161.45,599.93 L161.80,600.37 L162.15,600.72 L162.50,600.96 L162.85,601.14 L163.20,601.25 L163.55,601.25 L163.90,601.17 L164.25,601.11 L164.60,601.09 L164.95,601.04 L165.30,601.16 L165.65,601.03 L166.00,600.72 L166.35,600.55 L166.70,600.33 L167.05,600.20 L167.40,600.24 L167.75,600.31 L168.10,600.57 L168.45,601.01 L168.80,601.60 L169.15,601.83 L169.50,601.86 L169.85,601.77 L170.20,601.48 L170.55,601.53 L170.90,601.73 L171.25,601.70 L171.60,601.90 L171.95,602.06 L172.30,602.22 L172.65,602.56 L173.00,602.64 L173.35,602.84 L173.70,602.65 L174.05,602.50 L174.40,602.44 L174.75,602.27 L175.10,602.48 L175.45,602.44 L175.80,602.65 L176.15,602.77 L176.50,602.73 L176.85,602.85 L177.20,602.59 L177.55,602.20 L177.90,602.18 L178.25,602.20 L178.60,602.36 L178.95,602.55 L179.30,602.55 L179.65,602.74 L180.00,602.83 L180.35,603.06 L180.70,603.10 L181.05,603.02 L181.40,603.12 L181.75,603.17 L182.10,603.19 L182.45,603.17 L182.80,602.96 L183.15,602.88 L183.50,603.02 L183.85,602.96 L184.20,603.07 L184.55,603.30 L184.90,603.24 L185.25,603.42 L185.60,603.45 L185.95,603.19 L186.30,603.24 L186.65,603.15 L187.00,602.99 L187.35,603.02 L187.70,603.00 L188.05,603.24 L188.40,603.44 L188.75,603.60 L189.10,603.75 L189.45,603.65 L189.80,603.71 L190.15,603.94 L190.50,604.05 L190.85,603.78 L191.20,603.95 L191.55,603.86 L191.90,603.85 L192.25,604.17 L192.60,604.18 L192.95,604.37 L193.30,604.49 L193.65,604.71 L194.00,604.77 L194.35,604.69 L194.70,604.63 L195.05,604.34 L195.40,604.51 L195.75,604.47 L196.10,604.43 L196.45,604.60 L196.80,604.44 L197.15,604.21 L197.50,604.23 L197.85,604.11 L198.20,603.98 L198.55,604.04 L198.90,603.85 L199.25,604.09 L199.60,604.18 L199.95,604.41 L200.30,604.60 L200.65,604.42 L201.00,604.40 L201.35,604.29 L201.70,604.29 L202.05,604.18 L202.40,604.23 L202.75,604.48 L203.10,604.67 L203.45,605.06 L203.80,605.17 L204.15,604.97 L204.50,604.95 L204.85,604.89 L205.20,604.88 L205.55,604.87 L205.90,604.82 L206.25,604.93 L206.60,605.00 L206.95,605.12 L207.30,605.15 L207.65,605.01 L208.00,604.96 L208.35,605.09 L208.70,605.08 L209.05,605.11 L209.40,605.14 L209.75,604.97 L210.10,604.83 L210.45,604.89 L210.80,604.80 L211.15,604.96 L211.50,604.88 L211.85,604.98 L212.20,605.04 L212.55,605.18 L212.90,605.12 L213.25,604.81 L213.60,605.00 L213.95,604.84 L214.30,605.16 L214.65,605.38 L215.00,605.25 L215.35,605.31 L215.70,605.18 L216.05,605.16 L216.40,605.30 L216.75,605.27 L217.10,605.33 L217.45,605.37 L217.80,605.36 L218.15,605.33 L218.50,605.39 L218.85,605.45 L219.20,605.44 L219.55,605.64 L219.90,605.66 L220.25,605.66 L220.60,605.69 L220.95,605.33 L221.30,605.37 L221.65,605.40 L222.00,605.29 L222.35,605.42 L222.70,605.48 L223.05,605.58 L223.40,605.59 L223.75,605.65 L224.10,605.57 L224.45,605.62 L224.80,605.78 L225.15,605.86 L225.50,605.77 L225.85,605.47 L226.20,605.31 L226.55,605.28 L226.90,605.45 L227.25,605.48 L227.60,605.51 L227.95,605.62 L228.30,605.42 L228.65,605.81 L229.00,605.91 L229.35,605.92 L229.70,605.97 L230.05,605.62 L230.40,605.68 L230.75,605.73 L231.10,605.62 L231.45,605.88 L231.80,605.86 L232.15,605.84 L232.50,606.01 L232.85,605.92 L233.20,605.78 L233.55,605.79 L233.90,606.13 L234.25,606.19 L234.60,606.39 L234.95,606.30 L235.30,605.99 L235.65,605.94 L236.00,605.95 L236.35,606.17 L236.70,606.29 L237.05,606.33 L237.40,606.18 L237.75,605.84 L238.10,605.87 L238.45,605.89 L238.80,605.90 L239.15,606.09 L239.50,605.89 L239.85,605.87 L240.20,606.09 L240.55,606.12 L240.90,606.40 L241.25,606.46 L241.60,606.23 L241.95,606.27 L242.30,606.12 L242.65,606.42 L243.00,606.54 L243.35,606.40 L243.70,606.34 L244.05,606.19 L244.40,606.25 L244.75,606.43 L245.10,606.46 L245.45,606.25 L245.80,606.05 L246.15,606.15 L246.50,606.25 L246.85,606.55 L247.20,606.75 L247.55,606.61 L247.90,606.83 L248.25,606.39 L248.60,606.25 L248.95,606.26 L249.30,606.24 L249.65,606.61 L250.00,606.76 L250.35,606.61 L250.70,606.44 L251.05,606.21 L251.40,606.32 L251.75,606.48 L252.10,606.62 L252.45,606.96 L252.80,606.82 L253.15,606.96 L253.50,606.86 L253.85,606.67 L254.20,606.70 L254.55,606.63 L254.90,606.69 L255.25,606.65 L255.60,606.87 L255.95,606.81 L256.30,606.84 L256.65,606.86 L257.00,606.41 L257.35,606.60 L257.70,606.61 L258.05,606.50 L258.40,606.68 L258.75,606.40 L259.10,606.42 L259.45,606.76 L259.80,606.99 L260.15,607.03 L260.50,606.82 L260.85,606.71 L261.20,606.77 L261.55,606.94 L261.90,607.26 L262.25,607.05 L262.60,606.86 L262.95,606.92 L263.30,606.76 L263.65,606.90 L264.00,607.00 L264.35,606.89 L264.70,606.84 L265.05,606.96 L265.40,606.92 L265.75,606.89 L266.10,607.06 L266.45,606.92 L266.80,606.98 L267.15,607.10 L267.50,607.03 L267.85,607.02 L268.20,606.98 L268.55,606.99 L268.90,607.24 L269.25,607.33 L269.60,607.17 L269.95,607.42 L270.30,606.99 L270.65,607.19 L271.00,607.25 L271.35,607.19 L271.70,607.41 L272.05,607.29 L272.40,607.41 L272.75,607.25 L273.10,607.34 L273.45,607.21 L273.80,607.28 L274.15,607.18 L274.50,607.05 L274.85,607.07 L275.20,607.02 L275.55,607.29 L275.90,607.29 L276.25,607.26 L276.60,607.15 L276.95,606.98 L277.30,607.15 L277.65,607.17 L278.00,607.28 L278.35,607.27 L278.70,607.22 L279.05,607.09 L279.40,607.20 L279.75,607.38 L280.10,607.29 L280.45,607.52 L280.80,607.36 L281.15,607.38 L281.50,607.56 L281.85,607.90 L282.20,607.99 L282.55,607.79 L282.90,607.68 L283.25,607.22 L283.60,607.28 L283.95,607.42 L284.30,607.59 L284.65,607.79 L285.00,607.73 L285.35,607.85 L285.70,607.83 L286.05,607.89 L286.40,607.81 L286.75,607.59 L287.10,607.46 L287.45,607.33 L287.80,607.23 L288.15,607.47 L288.50,607.53 L288.85,607.68 L289.20,608.03 L289.55,608.07 L289.90,608.17 L290.25,608.13 L290.60,607.97 L290.95,607.83 L291.30,607.97 L291.65,607.74 L292.00,607.76 L292.35,607.79 L292.70,607.79 L293.05,607.87 L293.40,607.91 L293.75,607.91 L294.10,608.09 L294.45,608.13 L294.80,608.17 L295.15,608.25 L295.50,607.84 L295.85,607.99 L296.20,608.06 L296.55,607.95 L296.90,608.08 L297.25,608.24 L297.60,608.22 L297.95,608.23 L298.30,608.12 L298.65,607.96 L299.00,608.07 L299.35,608.15 L299.70,608.28 L300.05,608.56 L300.40,608.37 L300.75,608.25 L301.10,608.25 L301.45,607.94 L301.80,608.10 L302.15,608.38 L302.50,608.40 L302.85,608.41 L303.20,608.41 L303.55,608.34 L303.90,608.30 L304.25,608.27 L304.60,608.30 L304.95,608.23 L305.30,608.12 L305.65,608.27 L306.00,608.15 L306.35,608.12 L306.70,608.34 L307.05,608.18 L307.40,608.23 L307.75,608.19 L308.10,607.96 L308.45,608.09 L308.80,608.29 L309.15,608.32 L309.50,608.63 L309.85,608.73 L310.20,608.73 L310.55,608.72 L310.90,608.53 L311.25,608.60 L311.60,608.44 L311.95,608.57 L312.30,608.73 L312.65,608.63 L313.00,608.58 L313.35,608.57 L313.70,608.58 L314.05,608.55 L314.40,608.54 L314.75,608.72 L315.10,608.76 L315.45,608.70 L315.80,608.73 L316.15,608.70 L316.50,608.35 L316.85,608.41 L317.20,608.41 L317.55,608.25 L317.90,608.63 L318.25,608.66 L318.60,609.08 L318.95,609.15 L319.30,609.10 L319.65,608.92 L320.00,608.70 L320.35,608.67 L320.70,608.67 L321.05,608.98 L321.40,609.01 L321.75,609.14 L322.10,609.28 L322.45,609.09 L322.80,608.96" fill="none" stroke="#ff8410" stroke-width="1.4" stroke-linejoin="round"/>
<path d="M48.40,691.00 L48.75,691.01 L49.10,691.18 L49.45,691.18 L49.80,691.29 L50.15,691.12 L50.50,690.89 L50.85,690.66 L51.20,690.68 L51.55,690.77 L51.90,690.58 L52.25,690.60 L52.60,690.34 L52.95,690.21 L53.30,690.39 L53.65,690.32 L54.00,690.18 L54.35,690.06 L54.70,689.87 L55.05,689.99 L55.40,690.02 L55.75,690.03 L56.10,690.07 L56.45,689.74 L56.80,689.72 L57.15,689.65 L57.50,689.55 L57.85,689.61 L58.20,689.36 L58.55,689.14 L58.90,688.83 L59.25,688.78 L59.60,689.05 L59.95,689.00 L60.30,689.11 L60.65,688.97 L61.00,688.90 L61.35,688.84 L61.70,688.65 L62.05,688.93 L62.40,688.80 L62.75,688.89 L63.10,688.72 L63.45,688.61 L63.80,688.70 L64.15,688.55 L64.50,688.68 L64.85,688.39 L65.20,688.26 L65.55,688.04 L65.90,688.04 L66.25,688.27 L66.60,688.11 L66.95,688.44 L67.30,688.35 L67.65,688.03 L68.00,688.06 L68.35,687.77 L68.70,687.72 L69.05,687.66 L69.40,687.36 L69.75,687.28 L70.10,687.29 L70.45,687.40 L70.80,687.47 L71.15,687.48 L71.50,687.24 L71.85,687.05 L72.20,686.98 L72.55,686.87 L72.90,686.93 L73.25,686.93 L73.60,687.03 L73.95,687.07 L74.30,687.07 L74.65,686.91 L75.00,686.74 L75.35,686.71 L75.70,686.72 L76.05,686.99 L76.40,686.94 L76.75,687.00 L77.10,687.06 L77.45,686.99 L77.80,687.15 L78.15,687.21 L78.50,687.23 L78.85,687.38 L79.20,687.29 L79.55,687.22 L79.90,687.46 L80.25,687.49 L80.60,687.68 L80.95,687.80 L81.30,687.53 L81.65,687.72 L82.00,688.02 L82.35,688.21 L82.70,688.54 L83.05,688.49 L83.40,688.53 L83.75,688.55 L84.10,688.63 L84.45,688.63 L84.80,688.52 L85.15,688.44 L85.50,688.29 L85.85,688.17 L86.20,688.38 L86.55,688.65 L86.90,688.84 L87.25,689.18 L87.60,689.11 L87.95,689.06 L88.30,688.88 L88.65,688.81 L89.00,688.62 L89.35,688.48 L89.70,688.54 L90.05,688.33 L90.40,687.98 L90.75,687.38 L91.10,686.08 L91.45,683.83 L91.80,680.69 L92.15,676.60 L92.50,672.33 L92.85,668.19 L93.20,665.45 L93.55,664.14 L93.90,664.51 L94.25,666.94 L94.60,669.88 L94.95,672.95 L95.30,675.52 L95.65,676.53 L96.00,676.97 L96.35,676.58 L96.70,676.01 L97.05,676.57 L97.40,677.79 L97.75,679.81 L98.10,682.08 L98.45,684.01 L98.80,685.76 L99.15,687.26 L99.50,688.43 L99.85,689.39 L100.20,689.71 L100.55,690.04 L100.90,690.23 L101.25,690.30 L101.60,690.18 L101.95,690.16 L102.30,690.05 L102.65,690.19 L103.00,690.47 L103.35,690.26 L103.70,690.42 L104.05,690.24 L104.40,690.27 L104.75,690.52 L105.10,690.64 L105.45,690.66 L105.80,690.62 L106.15,690.39 L106.50,690.28 L106.85,690.31 L107.20,690.25 L107.55,690.37 L107.90,690.42 L108.25,690.38 L108.60,690.30 L108.95,690.43 L109.30,690.28 L109.65,690.23 L110.00,690.12 L110.35,689.93 L110.70,689.91 L111.05,690.01 L111.40,690.06 L111.75,690.10 L112.10,690.05 L112.45,690.12 L112.80,690.11 L113.15,690.08 L113.50,690.12 L113.85,689.77 L114.20,689.86 L114.55,689.70 L114.90,689.72 L115.25,689.58 L115.60,689.15 L115.95,688.80 L116.30,688.23 L116.65,688.09 L117.00,688.00 L117.35,687.98 L117.70,688.20 L118.05,688.38 L118.40,688.74 L118.75,689.16 L119.10,689.38 L119.45,689.56 L119.80,689.59 L120.15,689.38 L120.50,688.84 L120.85,688.33 L121.20,687.74 L121.55,687.57 L121.90,687.88 L122.25,688.35 L122.60,688.68 L122.95,689.16 L123.30,689.39 L123.65,689.60 L124.00,689.94 L124.35,689.77 L124.70,689.76 L125.05,689.78 L125.40,689.90 L125.75,689.92 L126.10,689.83 L126.45,689.31 L126.80,688.53 L127.15,687.39 L127.50,685.36 L127.85,682.17 L128.20,677.15 L128.55,670.64 L128.90,663.51 L129.25,656.93 L129.60,652.56 L129.95,651.45 L130.30,653.75 L130.65,658.99 L131.00,665.66 L131.35,672.24 L131.70,677.54 L132.05,680.65 L132.40,680.64 L132.75,677.87 L133.10,671.41 L133.45,661.93 L133.80,650.44 L134.15,638.31 L134.50,628.35 L134.85,621.74 L135.20,620.67 L135.55,625.07 L135.90,633.83 L136.25,645.32 L136.60,657.29 L136.95,668.08 L137.30,676.61 L137.65,682.91 L138.00,686.91 L138.35,689.20 L138.70,690.45 L139.05,690.69 L139.40,690.80 L139.75,690.33 L140.10,689.30 L140.45,687.61 L140.80,684.77 L141.15,680.96 L141.50,676.16 L141.85,671.30 L142.20,666.60 L142.55,662.89 L142.90,661.25 L143.25,661.54 L143.60,664.01 L143.95,668.25 L144.30,673.25 L144.65,678.37 L145.00,682.87 L145.35,686.42 L145.70,689.01 L146.05,690.39 L146.40,691.33 L146.75,691.76 L147.10,691.61 L147.45,691.68 L147.80,691.49 L148.15,691.09 L148.50,690.49 L148.85,689.68 L149.20,688.45 L149.55,687.09 L149.90,685.98 L150.25,684.67 L150.60,684.23 L150.95,684.37 L151.30,684.92 L151.65,686.32 L152.00,687.62 L152.35,688.83 L152.70,690.16 L153.05,690.92 L153.40,691.30 L153.75,691.84 L154.10,691.88 L154.45,692.10 L154.80,692.39 L155.15,692.28 L155.50,692.29 L155.85,691.95 L156.20,691.83 L156.55,691.63 L156.90,691.55 L157.25,691.47 L157.60,691.10 L157.95,690.82 L158.30,690.21 L158.65,689.85 L159.00,689.63 L159.35,689.61 L159.70,689.71 L160.05,690.19 L160.40,690.68 L160.75,691.07 L161.10,691.73 L161.45,692.14 L161.80,692.59 L162.15,692.75 L162.50,693.01 L162.85,693.01 L163.20,693.11 L163.55,693.17 L163.90,693.05 L164.25,693.07 L164.60,692.79 L164.95,692.83 L165.30,692.85 L165.65,692.82 L166.00,692.81 L166.35,692.64 L166.70,692.29 L167.05,692.30 L167.40,692.12 L167.75,692.15 L168.10,692.40 L168.45,692.53 L168.80,692.92 L169.15,693.37 L169.50,693.45 L169.85,693.62 L170.20,693.94 L170.55,693.99 L170.90,694.17 L171.25,694.04 L171.60,694.00 L171.95,693.75 L172.30,693.72 L172.65,693.64 L173.00,693.53 L173.35,693.95 L173.70,694.02 L174.05,694.35 L174.40,694.27 L174.75,694.04 L175.10,694.06 L175.45,694.08 L175.80,694.14 L176.15,694.15 L176.50,694.24 L176.85,694.33 L177.20,694.46 L177.55,694.76 L177.90,694.83 L178.25,694.66 L178.60,694.81 L178.95,694.58 L179.30,694.47 L179.65,694.54 L180.00,694.28 L180.35,694.24 L180.70,694.28 L181.05,694.30 L181.40,694.61 L181.75,694.90 L182.10,695.00 L182.45,695.05 L182.80,694.93 L183.15,694.68 L183.50,694.77 L183.85,694.70 L184.20,694.84 L184.55,694.97 L184.90,694.84 L185.25,694.99 L185.60,694.88 L185.95,694.82 L186.30,695.08 L186.65,695.10 L187.00,695.23 L187.35,695.41 L187.70,695.27 L188.05,694.95 L188.40,694.89 L188.75,694.86 L189.10,695.00 L189.45,695.19 L189.80,695.33 L190.15,695.41 L190.50,695.56 L190.85,695.65 L191.20,695.63 L191.55,695.69 L191.90,695.62 L192.25,695.87 L192.60,695.95 L192.95,695.80 L193.30,695.95 L193.65,695.62 L194.00,695.67 L194.35,695.99 L194.70,695.77 L195.05,696.01 L195.40,695.96 L195.75,695.73 L196.10,695.87 L196.45,695.80 L196.80,695.88 L197.15,696.09 L197.50,696.20 L197.85,696.49 L198.20,696.53 L198.55,696.55 L198.90,696.43 L199.25,696.31 L199.60,696.39 L199.95,696.45 L200.30,696.53 L200.65,696.55 L201.00,696.57 L201.35,696.37 L201.70,696.26 L202.05,696.29 L202.40,696.31 L202.75,696.31 L203.10,696.25 L203.45,696.10 L203.80,696.07 L204.15,696.29 L204.50,696.59 L204.85,696.97 L205.20,696.77 L205.55,696.67 L205.90,696.45 L206.25,696.08 L206.60,696.23 L206.95,696.19 L207.30,696.27 L207.65,696.36 L208.00,696.20 L208.35,696.34 L208.70,696.39 L209.05,696.38 L209.40,696.31 L209.75,696.00 L210.10,695.79 L210.45,695.89 L210.80,696.20 L211.15,696.47 L211.50,696.64 L211.85,696.32 L212.20,696.29 L212.55,696.22 L212.90,696.19 L213.25,696.36 L213.60,696.11 L213.95,696.28 L214.30,696.35 L214.65,696.35 L215.00,696.40 L215.35,696.26 L215.70,696.32 L216.05,696.50 L216.40,696.68 L216.75,696.85 L217.10,696.80 L217.45,696.65 L217.80,696.72 L218.15,696.62 L218.50,696.49 L218.85,696.73 L219.20,696.71 L219.55,696.57 L219.90,696.75 L220.25,696.65 L220.60,696.57 L220.95,696.68 L221.30,696.50 L221.65,696.32 L222.00,696.40 L222.35,696.50 L222.70,696.59 L223.05,696.78 L223.40,696.71 L223.75,696.63 L224.10,696.73 L224.45,696.76 L224.80,696.96 L225.15,696.96 L225.50,696.95 L225.85,696.88 L226.20,696.76 L226.55,696.95 L226.90,696.96 L227.25,696.90 L227.60,696.84 L227.95,696.64 L228.30,696.57 L228.65,696.59 L229.00,696.60 L229.35,696.65 L229.70,696.72 L230.05,696.70 L230.40,696.77 L230.75,696.80 L231.10,696.86 L231.45,696.99 L231.80,697.04 L232.15,697.08 L232.50,697.11 L232.85,697.08 L233.20,696.87 L233.55,696.88 L233.90,696.66 L234.25,696.44 L234.60,696.66 L234.95,696.62 L235.30,696.75 L235.65,697.05 L236.00,696.98 L236.35,697.11 L236.70,697.10 L237.05,697.02 L237.40,697.05 L237.75,696.72 L238.10,696.77 L238.45,696.65 L238.80,696.70 L239.15,696.91 L239.50,696.87 L239.85,696.95 L240.20,697.09 L240.55,696.89 L240.90,696.88 L241.25,696.87 L241.60,696.53 L241.95,696.91 L242.30,696.95 L242.65,697.31 L243.00,697.57 L243.35,697.48 L243.70,697.52 L244.05,697.13 L244.40,696.92 L244.75,697.02 L245.10,697.06 L245.45,697.12 L245.80,697.28 L246.15,697.15 L246.50,697.20 L246.85,697.33 L247.20,697.25 L247.55,697.32 L247.90,697.14 L248.25,697.18 L248.60,697.20 L248.95,696.78 L249.30,697.02 L249.65,696.86 L250.00,697.04 L250.35,697.45 L250.70,697.22 L251.05,697.21 L251.40,697.31 L251.75,697.27 L252.10,697.47 L252.45,697.64 L252.80,697.54 L253.15,697.55 L253.50,697.28 L253.85,697.16 L254.20,697.11 L254.55,696.96 L254.90,697.07 L255.25,697.14 L255.60,697.23 L255.95,697.53 L256.30,697.35 L256.65,697.41 L257.00,697.49 L257.35,697.18 L257.70,697.29 L258.05,697.37 L258.40,697.20 L258.75,697.30 L259.10,697.44 L259.45,697.40 L259.80,697.39 L260.15,697.50 L260.50,697.51 L260.85,697.48 L261.20,697.50 L261.55,697.51 L261.90,697.48 L262.25,697.56 L262.60,697.51 L262.95,697.42 L263.30,697.29 L263.65,697.10 L264.00,697.15 L264.35,697.19 L264.70,697.42 L265.05,697.38 L265.40,697.30 L265.75,697.11 L266.10,697.02 L266.45,697.25 L266.80,697.37 L267.15,697.55 L267.50,697.63 L267.85,697.56 L268.20,697.42 L268.55,697.36 L268.90,697.21 L269.25,697.23 L269.60,697.40 L269.95,697.55 L270.30,697.63 L270.65,697.78 L271.00,697.71 L271.35,697.72 L271.70,697.77 L272.05,697.69 L272.40,697.53 L272.75,697.54 L273.10,697.51 L273.45,697.39 L273.80,697.46 L274.15,697.33 L274.50,697.49 L274.85,697.60 L275.20,697.56 L275.55,697.67 L275.90,697.49 L276.25,697.52 L276.60,697.72 L276.95,697.78 L277.30,697.83 L277.65,697.73 L278.00,697.62 L278.35,697.38 L278.70,697.33 L279.05,697.46 L279.40,697.68 L279.75,697.75 L280.10,697.72 L280.45,697.51 L280.80,697.29 L281.15,697.26 L281.50,697.28 L281.85,697.43 L282.20,697.60 L282.55,697.91 L282.90,697.97 L283.25,697.67 L283.60,697.54 L283.95,697.25 L284.30,697.23 L284.65,697.38 L285.00,697.55 L285.35,697.58 L285.70,697.62 L286.05,697.89 L286.40,697.79 L286.75,697.71 L287.10,697.81 L287.45,697.67 L287.80,697.74 L288.15,697.99 L288.50,697.80 L288.85,697.65 L289.20,697.61 L289.55,697.36 L289.90,697.38 L290.25,697.61 L290.60,697.47 L290.95,697.69 L291.30,697.89 L291.65,697.77 L292.00,697.86 L292.35,697.97 L292.70,697.71 L293.05,697.90 L293.40,697.86 L293.75,697.73 L294.10,697.76 L294.45,697.47 L294.80,697.68 L295.15,697.69 L295.50,697.87 L295.85,697.85 L296.20,697.71 L296.55,697.57 L296.90,697.52 L297.25,697.71 L297.60,697.81 L297.95,698.00 L298.30,697.94 L298.65,697.95 L299.00,697.86 L299.35,697.95 L299.70,698.01 L300.05,698.08 L300.40,698.09 L300.75,698.02 L301.10,698.07 L301.45,697.79 L301.80,697.91 L302.15,697.74 L302.50,697.53 L302.85,697.71 L303.20,697.76 L303.55,697.94 L303.90,698.05 L304.25,697.86 L304.60,697.46 L304.95,697.31 L305.30,697.35 L305.65,697.52 L306.00,697.94 L306.35,697.99 L306.70,697.94 L307.05,697.84 L307.40,697.61 L307.75,697.57 L308.10,697.72 L308.45,697.81 L308.80,697.91 L309.15,698.00 L309.50,697.99 L309.85,698.10 L310.20,698.24 L310.55,698.12 L310.90,698.08 L311.25,698.00 L311.60,697.86 L311.95,698.06 L312.30,698.17 L312.65,698.13 L313.00,698.33 L313.35,698.30 L313.70,698.30 L314.05,698.31 L314.40,698.22 L314.75,698.14 L315.10,697.97 L315.45,698.05 L315.80,697.86 L316.15,697.78 L316.50,697.94 L316.85,698.01 L317.20,698.05 L317.55,698.28 L317.90,698.36 L318.25,698.40 L318.60,698.52 L318.95,698.39 L319.30,698.43 L319.65,698.27 L320.00,698.29 L320.35,698.45 L320.70,698.47 L321.05,698.55 L321.40,698.54 L321.75,698.48 L322.10,698.33 L322.45,698.42 L322.80,698.39" fill="none" stroke="#1a9cff" stroke-width="1.4" stroke-linejoin="round"/>
<rect x="47.6" y="512.0" width="276.29999999999995" height="187.29999999999995" fill="none" stroke="#000" stroke-width="1.7"/>
<line x1="50.86" y1="699.3" x2="50.86" y2="701.1999999999999" stroke="#000" stroke-width="1.3"/>
<line x1="81.20" y1="699.3" x2="81.20" y2="702.3" stroke="#000" stroke-width="1.3"/>
<text x="81.20" y="713.5" font-size="12.6" text-anchor="middle" font-weight="normal" fill="#000">2</text>
<line x1="111.54" y1="699.3" x2="111.54" y2="701.1999999999999" stroke="#000" stroke-width="1.3"/>
<line x1="141.88" y1="699.3" x2="141.88" y2="702.3" stroke="#000" stroke-width="1.3"/>
<text x="141.88" y="713.5" font-size="12.6" text-anchor="middle" font-weight="normal" fill="#000">4</text>
<line x1="172.22" y1="699.3" x2="172.22" y2="701.1999999999999" stroke="#000" stroke-width="1.3"/>
<line x1="202.56" y1="699.3" x2="202.56" y2="702.3" stroke="#000" stroke-width="1.3"/>
<text x="202.56" y="713.5" font-size="12.6" text-anchor="middle" font-weight="normal" fill="#000">6</text>
<line x1="232.90" y1="699.3" x2="232.90" y2="701.1999999999999" stroke="#000" stroke-width="1.3"/>
<line x1="263.24" y1="699.3" x2="263.24" y2="702.3" stroke="#000" stroke-width="1.3"/>
<text x="263.24" y="713.5" font-size="12.6" text-anchor="middle" font-weight="normal" fill="#000">8</text>
<line x1="293.58" y1="699.3" x2="293.58" y2="701.1999999999999" stroke="#000" stroke-width="1.3"/>
<line x1="323.92" y1="699.3" x2="323.92" y2="702.3" stroke="#000" stroke-width="1.3"/>
<text x="323.92" y="713.5" font-size="12.6" text-anchor="middle" font-weight="normal" fill="#000">10</text>
<text x="94.1" y="550.0" font-size="9.6" text-anchor="middle" font-weight="normal" fill="#000">Bi</text>
<text x="126.2" y="558.0" font-size="9.6" text-anchor="middle" font-weight="normal" fill="#000">Sb</text>
<text x="135.5" y="520.9" font-size="9.6" text-anchor="middle" font-weight="normal" fill="#000">Te</text>
<text x="144.2" y="563.6" font-size="9.6" text-anchor="middle" font-weight="normal" fill="#000">Te</text>
<text x="152.2" y="590.3" font-size="9.6" text-anchor="middle" font-weight="normal" fill="#000">Sb</text>
<text x="94.1" y="661.6" font-size="9.6" text-anchor="middle" font-weight="normal" fill="#000">Bi</text>
<text x="127.1" y="648.4" font-size="9.6" text-anchor="middle" font-weight="normal" fill="#000">Sb</text>
<text x="135.2" y="618.1" font-size="9.6" text-anchor="middle" font-weight="normal" fill="#000">Te</text>
<text x="144.2" y="657.5" font-size="9.6" text-anchor="middle" font-weight="normal" fill="#000">Te</text>
<text x="152.4" y="683.1" font-size="9.6" text-anchor="middle" font-weight="normal" fill="#000">Sb</text>
<line x1="203.9" y1="521.2" x2="219" y2="521.2" stroke="#ff8410" stroke-width="1.6"/>
<text x="228.8" y="526.1" font-size="12.6" text-anchor="start" font-weight="normal" fill="#000">Bi-rich domain</text>
<line x1="197.8" y1="529.8" x2="319.2" y2="529.8" stroke="#222" stroke-width="1.1"/>
<line x1="197.8" y1="546.0" x2="319.2" y2="546.0" stroke="#222" stroke-width="1.1"/>
<line x1="197.8" y1="594.2" x2="319.2" y2="594.2" stroke="#222" stroke-width="1.1"/>
<text x="201.6" y="542.1" font-size="10" text-anchor="start" font-weight="bold" fill="#000">Element</text>
<text x="248.5" y="542.1" font-size="10" text-anchor="start" font-weight="bold" fill="#000">Content (at.%)</text>
<text x="201.6" y="558.1" font-size="10" text-anchor="start" font-weight="normal" fill="#000">Bi</text>
<text x="248.5" y="558.1" font-size="10" text-anchor="start" font-weight="normal" fill="#000">10.9</text>
<text x="201.6" y="574.2" font-size="10" text-anchor="start" font-weight="normal" fill="#000">Sb</text>
<text x="248.5" y="574.2" font-size="10" text-anchor="start" font-weight="normal" fill="#000">29.5</text>
<text x="201.6" y="590.4" font-size="10" text-anchor="start" font-weight="normal" fill="#000">Te</text>
<text x="248.5" y="590.4" font-size="10" text-anchor="start" font-weight="normal" fill="#000">59.6</text>
<line x1="203.9" y1="616.3" x2="219" y2="616.3" stroke="#1a9cff" stroke-width="1.6"/>
<text x="228.8" y="621.2" font-size="12.6" text-anchor="start" font-weight="normal" fill="#000">Sb-rich domain</text>
<line x1="197.8" y1="624.9" x2="319.2" y2="624.9" stroke="#222" stroke-width="1.1"/>
<line x1="197.8" y1="641.1" x2="319.2" y2="641.1" stroke="#222" stroke-width="1.1"/>
<line x1="197.8" y1="689.3" x2="319.2" y2="689.3" stroke="#222" stroke-width="1.1"/>
<text x="201.6" y="637.2" font-size="10" text-anchor="start" font-weight="bold" fill="#000">Element</text>
<text x="248.5" y="637.2" font-size="10" text-anchor="start" font-weight="bold" fill="#000">Content (at.%)</text>
<text x="201.6" y="653.2" font-size="10" text-anchor="start" font-weight="normal" fill="#000">Bi</text>
<text x="248.5" y="653.2" font-size="10" text-anchor="start" font-weight="normal" fill="#000">6.7</text>
<text x="201.6" y="669.4" font-size="10" text-anchor="start" font-weight="normal" fill="#000">Sb</text>
<text x="248.5" y="669.4" font-size="10" text-anchor="start" font-weight="normal" fill="#000">33.8</text>
<text x="201.6" y="685.5" font-size="10" text-anchor="start" font-weight="normal" fill="#000">Te</text>
<text x="248.5" y="685.5" font-size="10" text-anchor="start" font-weight="normal" fill="#000">59.5</text>
<text x="186.5" y="731.7" font-size="17.6" text-anchor="middle" font-weight="normal" fill="#000">Energy (keV)</text>
<text x="37.300000000000004" y="661.7" font-size="17.6" text-anchor="start" font-weight="normal" fill="#000" transform="rotate(-90 37.300000000000004 661.7)">Intensity (a.u.)</text>
<text x="-0.8" y="527.0" font-size="18" text-anchor="start" font-weight="bold" fill="#000">e</text>
<rect x="405.4" y="621.0" width="63.3" height="11.9" fill="#c8c8c8"/>
<rect x="407.80" y="622.75" width="8.60" height="76.85" fill="#ff8000" stroke="#2a2a2a" stroke-width="0.7"/>
<rect x="420.20" y="624.85" width="8.60" height="74.75" fill="#ff8000" stroke="#2a2a2a" stroke-width="0.7"/>
<rect x="432.60" y="623.85" width="8.60" height="75.75" fill="#ff8000" stroke="#2a2a2a" stroke-width="0.7"/>
<rect x="445.00" y="626.65" width="8.60" height="72.95" fill="#ff8000" stroke="#2a2a2a" stroke-width="0.7"/>
<rect x="457.40" y="631.35" width="8.60" height="68.25" fill="#ff8000" stroke="#2a2a2a" stroke-width="0.7"/>
<text x="436.9" y="605.0" font-size="12.2" text-anchor="middle" font-weight="normal" fill="#000">Average</text>
<text x="436.9" y="618.9" font-size="12.2" text-anchor="middle" font-weight="normal" fill="#000">10.4 at.%</text>
<rect x="474.2" y="562.8" width="63.9" height="10.8" fill="#c8c8c8"/>
<rect x="477.10" y="572.45" width="8.60" height="127.15" fill="#0f8fff" stroke="#2a2a2a" stroke-width="0.7"/>
<rect x="489.50" y="566.05" width="8.60" height="133.55" fill="#0f8fff" stroke="#2a2a2a" stroke-width="0.7"/>
<rect x="501.90" y="569.35" width="8.60" height="130.25" fill="#0f8fff" stroke="#2a2a2a" stroke-width="0.7"/>
<rect x="514.30" y="567.55" width="8.60" height="132.05" fill="#0f8fff" stroke="#2a2a2a" stroke-width="0.7"/>
<rect x="526.70" y="564.25" width="8.60" height="135.35" fill="#0f8fff" stroke="#2a2a2a" stroke-width="0.7"/>
<rect x="475.75" y="589.9" width="60.90" height="3.2" fill="#fff"/>
<text x="506.2" y="546.0" font-size="12.2" text-anchor="middle" font-weight="normal" fill="#000">Average</text>
<text x="506.2" y="560.1" font-size="12.2" text-anchor="middle" font-weight="normal" fill="#000">30.1 at.%</text>
<rect x="544.0" y="646.6" width="63.0" height="6.5" fill="#c8c8c8"/>
<rect x="546.50" y="648.75" width="8.60" height="50.85" fill="#ff8000" stroke="#2a2a2a" stroke-width="0.7"/>
<rect x="558.90" y="648.75" width="8.60" height="50.85" fill="#ff8000" stroke="#2a2a2a" stroke-width="0.7"/>
<rect x="571.30" y="648.75" width="8.60" height="50.85" fill="#ff8000" stroke="#2a2a2a" stroke-width="0.7"/>
<rect x="583.70" y="652.55" width="8.60" height="47.05" fill="#ff8000" stroke="#2a2a2a" stroke-width="0.7"/>
<rect x="596.10" y="650.65" width="8.60" height="48.95" fill="#ff8000" stroke="#2a2a2a" stroke-width="0.7"/>
<text x="575.6" y="629.8" font-size="12.2" text-anchor="middle" font-weight="normal" fill="#000">Average</text>
<text x="575.6" y="644.6" font-size="12.2" text-anchor="middle" font-weight="normal" fill="#000">7.0 at.%</text>
<rect x="612.8" y="539.6" width="63.6" height="5.8" fill="#c8c8c8"/>
<rect x="615.70" y="542.55" width="8.60" height="157.05" fill="#0f8fff" stroke="#2a2a2a" stroke-width="0.7"/>
<rect x="628.10" y="544.75" width="8.60" height="154.85" fill="#0f8fff" stroke="#2a2a2a" stroke-width="0.7"/>
<rect x="640.50" y="540.65" width="8.60" height="158.95" fill="#0f8fff" stroke="#2a2a2a" stroke-width="0.7"/>
<rect x="652.90" y="541.45" width="8.60" height="158.15" fill="#0f8fff" stroke="#2a2a2a" stroke-width="0.7"/>
<rect x="665.30" y="544.15" width="8.60" height="155.45" fill="#0f8fff" stroke="#2a2a2a" stroke-width="0.7"/>
<rect x="614.35" y="589.9" width="60.90" height="3.2" fill="#fff"/>
<text x="644.8" y="522.4" font-size="12.2" text-anchor="middle" font-weight="normal" fill="#000">Average</text>
<text x="644.8" y="536.6" font-size="12.2" text-anchor="middle" font-weight="normal" fill="#000">33.7 at.%</text>
<path d="M402.6,589.6 V511.7 H679.0 V589.6 M402.6,594.0 V699.6 H679.0 V594.0" fill="none" stroke="#000" stroke-width="1.7"/>
<path d="M398.4,591.5 L406.8,587.3 M398.4,595.7 L406.8,591.5" stroke="#000" stroke-width="1.5"/>
<path d="M674.8,591.5 L683.2,587.3 M674.8,595.7 L683.2,591.5" stroke="#000" stroke-width="1.5"/>
<line x1="398.60" y1="699.60" x2="402.6" y2="699.60" stroke="#000" stroke-width="1.2"/>
<text x="396.1" y="703.90" font-size="12.4" text-anchor="end" font-weight="normal" fill="#000">0</text>
<line x1="400.40" y1="685.36" x2="402.6" y2="685.36" stroke="#000" stroke-width="1.2"/>
<line x1="398.60" y1="671.12" x2="402.6" y2="671.12" stroke="#000" stroke-width="1.2"/>
<text x="396.1" y="675.42" font-size="12.4" text-anchor="end" font-weight="normal" fill="#000">4</text>
<line x1="400.40" y1="656.88" x2="402.6" y2="656.88" stroke="#000" stroke-width="1.2"/>
<line x1="398.60" y1="642.64" x2="402.6" y2="642.64" stroke="#000" stroke-width="1.2"/>
<text x="396.1" y="646.94" font-size="12.4" text-anchor="end" font-weight="normal" fill="#000">8</text>
<line x1="400.40" y1="628.40" x2="402.6" y2="628.40" stroke="#000" stroke-width="1.2"/>
<line x1="398.60" y1="614.16" x2="402.6" y2="614.16" stroke="#000" stroke-width="1.2"/>
<text x="396.1" y="618.46" font-size="12.4" text-anchor="end" font-weight="normal" fill="#000">12</text>
<line x1="400.40" y1="599.92" x2="402.6" y2="599.92" stroke="#000" stroke-width="1.2"/>
<line x1="398.60" y1="582.70" x2="402.6" y2="582.70" stroke="#000" stroke-width="1.2"/>
<text x="396.1" y="587.00" font-size="12.4" text-anchor="end" font-weight="normal" fill="#000">28</text>
<line x1="400.40" y1="568.44" x2="402.6" y2="568.44" stroke="#000" stroke-width="1.2"/>
<line x1="398.60" y1="554.18" x2="402.6" y2="554.18" stroke="#000" stroke-width="1.2"/>
<text x="396.1" y="558.48" font-size="12.4" text-anchor="end" font-weight="normal" fill="#000">32</text>
<line x1="400.40" y1="539.92" x2="402.6" y2="539.92" stroke="#000" stroke-width="1.2"/>
<line x1="398.60" y1="525.66" x2="402.6" y2="525.66" stroke="#000" stroke-width="1.2"/>
<text x="396.1" y="529.96" font-size="12.4" text-anchor="end" font-weight="normal" fill="#000">36</text>
<line x1="436.9" y1="699.6" x2="436.9" y2="703.2" stroke="#000" stroke-width="1.2"/>
<text x="436.9" y="714.6" font-size="11.8" text-anchor="middle" font-weight="normal" fill="#000">Bi</text>
<line x1="506.2" y1="699.6" x2="506.2" y2="703.2" stroke="#000" stroke-width="1.2"/>
<text x="506.2" y="714.6" font-size="11.8" text-anchor="middle" font-weight="normal" fill="#000">Sb</text>
<line x1="575.6" y1="699.6" x2="575.6" y2="703.2" stroke="#000" stroke-width="1.2"/>
<text x="575.6" y="714.6" font-size="11.8" text-anchor="middle" font-weight="normal" fill="#000">Bi</text>
<line x1="644.8" y1="699.6" x2="644.8" y2="703.2" stroke="#000" stroke-width="1.2"/>
<text x="644.8" y="714.6" font-size="11.8" text-anchor="middle" font-weight="normal" fill="#000">Sb</text>
<text x="471.6" y="731.4" font-size="17.2" text-anchor="middle" font-weight="normal" fill="#000">Bi-rich domain</text>
<text x="609.9" y="731.4" font-size="17.2" text-anchor="middle" font-weight="normal" fill="#000">Sb-rich domain</text>
<text x="375.4" y="689.6" font-size="17.4" text-anchor="start" font-weight="normal" fill="#000" transform="rotate(-90 375.4 689.6)">Bi &amp; Sb content (at.%)</text>
<text x="349.6" y="526.3" font-size="18" text-anchor="start" font-weight="bold" fill="#000">f</text>
</svg></body></html>
